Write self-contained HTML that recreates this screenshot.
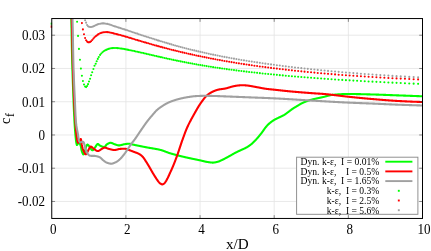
<!DOCTYPE html>
<html><head><meta charset="utf-8"><title>cf plot</title>
<style>html,body{margin:0;padding:0;background:#fff;overflow:hidden}body{width:431px;height:251px;font-family:"Liberation Serif",serif}</style></head>
<body><svg width="431" height="251" viewBox="0 0 431 251" style="display:block;will-change:transform">
<rect width="431" height="251" fill="#fff"/>
<defs><clipPath id="c"><rect x="51.75" y="18.55" width="370.75" height="199.89999999999998"/></clipPath></defs>
<path d="M125.90,18.55 V218.45 M200.05,18.55 V218.45 M274.20,18.55 V218.45 M348.35,18.55 V218.45 M51.75,201.48 H422.5 M51.75,168.23 H422.5 M51.75,134.98 H422.5 M51.75,101.73 H422.5 M51.75,68.48 H422.5 M51.75,35.23 H422.5" stroke="#e3e3e3" stroke-width="0.8" fill="none"/>
<g clip-path="url(#c)" fill="none" stroke-width="2.1" stroke-linejoin="round">
<path d="M70.90,0.00 L71.15,11.86 L71.30,18.60 L71.40,22.84 L71.45,25.00 L71.65,34.75 L71.90,47.91 L72.15,59.99 L72.25,64.00 L72.40,69.18 L72.65,76.66 L72.90,83.59 L72.95,85.00 L73.15,90.68 L73.40,97.47 L73.50,100.00 L73.65,103.68 L73.90,109.66 L74.15,115.23 L74.40,120.12 L74.45,121.00 L74.65,124.31 L74.90,128.09 L75.15,131.48 L75.40,134.45 L75.45,135.00 L75.65,137.11 L75.90,139.53 L76.15,141.55 L76.30,142.50 L76.40,143.07 L76.65,144.40 L76.90,145.00 L77.15,144.88 L77.40,144.57 L77.65,144.14 L77.90,143.65 L78.15,143.18 L78.40,142.79 L78.65,142.54 L78.80,142.50 L78.90,142.51 L79.15,142.65 L79.40,142.93 L79.65,143.33 L79.90,143.83 L80.15,144.41 L80.40,145.06 L80.65,145.76 L80.80,146.20 L80.90,146.57 L81.15,147.93 L81.40,149.46 L81.60,150.40 L81.65,150.57 L81.90,151.38 L82.15,152.08 L82.40,152.70 L82.65,153.24 L82.90,153.70 L83.15,154.16 L83.40,154.40 L83.65,154.30 L83.90,154.03 L84.15,153.64 L84.40,153.19 L84.50,153.00 L84.65,152.64 L84.90,151.73 L85.15,150.59 L85.40,149.36 L85.65,148.20 L85.90,147.27 L86.00,147.00 L86.15,146.64 L86.40,146.04 L86.65,145.48 L86.90,145.03 L87.15,144.71 L87.40,144.60 L87.65,144.65 L87.90,144.78 L88.15,144.97 L88.40,145.22 L88.65,145.50 L88.90,145.80 L89.15,146.10 L89.40,146.39 L89.50,146.50 L89.65,146.67 L89.90,147.01 L90.15,147.40 L90.40,147.82 L90.65,148.26 L90.90,148.70 L91.15,149.12 L91.40,149.50 L91.65,149.82 L91.90,150.08 L92.15,150.24 L92.40,150.30 L92.65,150.25 L92.90,150.12 L93.15,149.91 L93.40,149.65 L93.65,149.34 L93.90,149.00 L94.15,148.65 L94.40,148.29 L94.65,147.94 L94.90,147.62 L95.00,147.50 L95.15,147.32 L95.40,146.97 L95.65,146.58 L95.90,146.17 L96.15,145.75 L96.40,145.35 L96.65,144.96 L96.90,144.63 L97.15,144.34 L97.40,144.14 L97.65,144.02 L97.80,144.00 L97.90,144.01 L98.15,144.08 L98.40,144.23 L98.65,144.43 L98.90,144.66 L99.15,144.90 L99.40,145.14 L99.65,145.36 L99.90,145.54 L100.00,145.60 L100.15,145.68 L100.40,145.81 L100.65,145.94 L100.90,146.06 L101.15,146.19 L101.40,146.30 L101.65,146.41 L101.90,146.52 L102.15,146.61 L102.40,146.70 L102.65,146.77 L102.90,146.83 L103.15,146.88 L103.30,146.90 L103.40,146.91 L103.65,146.94 L103.90,146.97 L104.15,146.99 L104.40,147.00 L104.50,147.00 L104.65,146.97 L104.90,146.82 L105.15,146.56 L105.40,146.23 L105.65,145.85 L105.90,145.46 L106.15,145.09 L106.40,144.77 L106.65,144.54 L106.70,144.50 L106.90,144.37 L107.15,144.21 L107.40,144.05 L107.65,143.89 L107.90,143.74 L108.15,143.59 L108.40,143.46 L108.65,143.33 L108.90,143.21 L109.15,143.11 L109.40,143.02 L109.65,142.94 L109.90,142.88 L110.15,142.83 L110.40,142.81 L110.60,142.80 L110.65,142.80 L110.90,142.82 L111.15,142.86 L111.40,142.91 L111.65,142.99 L111.90,143.07 L112.15,143.17 L112.40,143.28 L112.65,143.40 L112.90,143.52 L113.15,143.64 L113.40,143.75 L113.65,143.87 L113.90,143.98 L114.15,144.08 L114.40,144.17 L114.50,144.20 L114.65,144.25 L114.90,144.33 L115.15,144.41 L115.40,144.50 L115.65,144.59 L115.90,144.68 L116.15,144.77 L116.40,144.86 L116.65,144.94 L116.90,145.02 L117.15,145.10 L117.40,145.17 L117.65,145.23 L117.90,145.28 L118.15,145.33 L118.40,145.36 L118.65,145.39 L118.90,145.40 L119.00,145.40 L119.15,145.40 L119.40,145.39 L119.65,145.37 L119.90,145.33 L120.15,145.30 L120.40,145.25 L120.65,145.20 L120.90,145.14 L121.15,145.08 L121.40,145.01 L121.65,144.95 L121.90,144.87 L122.15,144.80 L122.40,144.73 L122.65,144.66 L122.90,144.59 L123.15,144.52 L123.40,144.45 L123.65,144.39 L123.90,144.33 L124.15,144.28 L124.40,144.23 L124.60,144.20 L124.65,144.19 L124.90,144.16 L125.15,144.12 L125.40,144.08 L125.65,144.04 L125.90,144.00 L126.15,143.96 L126.40,143.93 L126.65,143.89 L126.90,143.86 L127.15,143.82 L127.40,143.80 L127.65,143.77 L127.90,143.75 L128.15,143.73 L128.40,143.71 L128.65,143.71 L128.90,143.70 L129.00,143.70 L129.15,143.70 L129.40,143.72 L129.65,143.74 L129.90,143.77 L130.15,143.82 L130.40,143.87 L130.65,143.92 L130.90,143.98 L131.15,144.05 L131.40,144.12 L131.65,144.19 L131.90,144.27 L132.15,144.34 L132.40,144.41 L132.65,144.49 L132.90,144.55 L133.15,144.62 L133.40,144.68 L133.50,144.70 L133.65,144.73 L133.90,144.79 L134.15,144.84 L134.40,144.89 L134.65,144.95 L134.90,145.00 L135.15,145.05 L135.40,145.11 L135.65,145.16 L135.90,145.21 L136.15,145.27 L136.40,145.32 L136.65,145.37 L136.90,145.42 L137.15,145.48 L137.40,145.53 L137.65,145.58 L137.90,145.63 L138.15,145.68 L138.40,145.73 L138.65,145.79 L138.90,145.84 L139.15,145.89 L139.40,145.94 L139.65,145.99 L139.90,146.04 L140.15,146.09 L140.20,146.10 L140.40,146.14 L140.65,146.19 L140.90,146.24 L141.15,146.29 L141.40,146.34 L141.65,146.39 L141.90,146.44 L142.15,146.49 L142.40,146.54 L142.65,146.59 L142.90,146.64 L143.15,146.68 L143.40,146.73 L143.65,146.78 L143.90,146.83 L144.15,146.88 L144.40,146.93 L144.65,146.97 L144.90,147.02 L145.15,147.07 L145.40,147.12 L145.65,147.17 L145.90,147.21 L146.15,147.26 L146.40,147.31 L146.65,147.35 L146.90,147.40 L147.15,147.44 L147.40,147.49 L147.65,147.54 L147.90,147.58 L148.00,147.60 L148.15,147.63 L148.40,147.67 L148.65,147.72 L148.90,147.76 L149.15,147.80 L149.40,147.85 L149.65,147.89 L149.90,147.93 L150.15,147.97 L150.40,148.01 L150.65,148.06 L150.90,148.10 L151.15,148.14 L151.40,148.18 L151.65,148.22 L151.90,148.26 L152.15,148.30 L152.40,148.35 L152.65,148.39 L152.90,148.43 L153.15,148.47 L153.40,148.52 L153.65,148.56 L153.90,148.60 L154.15,148.65 L154.40,148.69 L154.65,148.74 L154.90,148.78 L155.00,148.80 L155.15,148.83 L155.40,148.87 L155.65,148.92 L155.90,148.97 L156.15,149.01 L156.40,149.06 L156.65,149.10 L156.90,149.15 L157.15,149.20 L157.40,149.24 L157.65,149.29 L157.90,149.34 L158.15,149.39 L158.40,149.44 L158.65,149.49 L158.90,149.55 L159.15,149.60 L159.40,149.66 L159.65,149.72 L159.90,149.78 L160.00,149.80 L160.15,149.84 L160.40,149.90 L160.65,149.97 L160.90,150.04 L161.15,150.11 L161.40,150.19 L161.65,150.26 L161.90,150.34 L162.15,150.42 L162.40,150.51 L162.65,150.59 L162.90,150.68 L163.15,150.76 L163.40,150.85 L163.65,150.94 L163.90,151.03 L164.15,151.13 L164.40,151.22 L164.65,151.31 L164.90,151.41 L165.15,151.50 L165.40,151.60 L165.65,151.69 L165.90,151.79 L166.15,151.88 L166.40,151.98 L166.65,152.07 L166.90,152.16 L167.15,152.26 L167.40,152.35 L167.65,152.44 L167.90,152.53 L168.15,152.62 L168.40,152.71 L168.65,152.80 L168.90,152.88 L169.15,152.97 L169.40,153.05 L169.65,153.13 L169.90,153.21 L170.15,153.29 L170.20,153.30 L170.40,153.36 L170.65,153.43 L170.90,153.51 L171.15,153.58 L171.40,153.65 L171.65,153.73 L171.90,153.80 L172.15,153.87 L172.40,153.94 L172.65,154.01 L172.90,154.08 L173.15,154.15 L173.40,154.22 L173.65,154.29 L173.90,154.36 L174.15,154.43 L174.40,154.50 L174.65,154.57 L174.90,154.63 L175.15,154.70 L175.40,154.77 L175.65,154.84 L175.90,154.90 L176.15,154.97 L176.40,155.03 L176.65,155.10 L176.90,155.16 L177.15,155.23 L177.40,155.29 L177.65,155.36 L177.90,155.42 L178.15,155.49 L178.40,155.55 L178.65,155.61 L178.90,155.68 L179.15,155.74 L179.40,155.80 L179.65,155.87 L179.90,155.93 L180.15,155.99 L180.40,156.05 L180.65,156.11 L180.90,156.17 L181.15,156.23 L181.40,156.30 L181.65,156.36 L181.90,156.42 L182.15,156.48 L182.40,156.54 L182.65,156.60 L182.90,156.66 L183.15,156.72 L183.40,156.78 L183.65,156.84 L183.90,156.89 L184.15,156.95 L184.40,157.01 L184.65,157.07 L184.90,157.13 L185.15,157.19 L185.20,157.20 L185.40,157.25 L185.65,157.30 L185.90,157.36 L186.15,157.42 L186.40,157.48 L186.65,157.53 L186.90,157.59 L187.15,157.64 L187.40,157.70 L187.65,157.75 L187.90,157.81 L188.15,157.86 L188.40,157.92 L188.65,157.97 L188.90,158.03 L189.15,158.08 L189.40,158.13 L189.65,158.18 L189.90,158.24 L190.15,158.29 L190.40,158.34 L190.65,158.39 L190.90,158.45 L191.15,158.50 L191.40,158.55 L191.65,158.60 L191.90,158.65 L192.15,158.71 L192.40,158.76 L192.65,158.81 L192.90,158.86 L193.15,158.91 L193.40,158.96 L193.65,159.01 L193.90,159.06 L194.15,159.11 L194.40,159.17 L194.65,159.22 L194.90,159.27 L195.15,159.32 L195.40,159.37 L195.65,159.42 L195.90,159.47 L196.15,159.52 L196.40,159.58 L196.65,159.63 L196.90,159.68 L197.15,159.73 L197.40,159.78 L197.65,159.83 L197.90,159.89 L198.15,159.94 L198.40,159.99 L198.65,160.05 L198.90,160.10 L199.15,160.15 L199.40,160.21 L199.65,160.26 L199.90,160.31 L200.15,160.37 L200.30,160.40 L200.40,160.42 L200.65,160.48 L200.90,160.54 L201.15,160.59 L201.40,160.65 L201.65,160.71 L201.90,160.77 L202.15,160.83 L202.40,160.90 L202.65,160.96 L202.90,161.02 L203.15,161.08 L203.40,161.14 L203.65,161.20 L203.90,161.26 L204.15,161.32 L204.40,161.38 L204.65,161.44 L204.90,161.50 L205.15,161.55 L205.40,161.60 L205.65,161.66 L205.90,161.71 L206.15,161.75 L206.40,161.80 L206.65,161.84 L206.90,161.88 L207.00,161.90 L207.15,161.92 L207.40,161.96 L207.65,162.00 L207.90,162.04 L208.15,162.08 L208.40,162.13 L208.65,162.17 L208.90,162.21 L209.15,162.24 L209.40,162.28 L209.65,162.32 L209.90,162.36 L210.15,162.39 L210.40,162.42 L210.65,162.45 L210.90,162.48 L211.15,162.51 L211.40,162.53 L211.65,162.55 L211.90,162.57 L212.15,162.58 L212.40,162.59 L212.65,162.60 L212.90,162.60 L213.15,162.60 L213.40,162.59 L213.65,162.57 L213.90,162.55 L214.15,162.52 L214.40,162.49 L214.65,162.45 L214.90,162.41 L215.15,162.37 L215.40,162.32 L215.65,162.27 L215.90,162.22 L216.15,162.16 L216.40,162.10 L216.65,162.04 L216.90,161.98 L217.15,161.92 L217.40,161.85 L217.65,161.79 L217.90,161.73 L218.00,161.70 L218.15,161.66 L218.40,161.59 L218.65,161.51 L218.90,161.42 L219.15,161.32 L219.40,161.22 L219.65,161.11 L219.90,161.00 L220.15,160.89 L220.40,160.77 L220.65,160.65 L220.90,160.53 L221.15,160.41 L221.40,160.28 L221.65,160.16 L221.90,160.05 L222.00,160.00 L222.15,159.93 L222.40,159.81 L222.65,159.69 L222.90,159.57 L223.15,159.45 L223.40,159.33 L223.65,159.20 L223.90,159.07 L224.15,158.95 L224.40,158.82 L224.65,158.69 L224.90,158.56 L225.15,158.43 L225.40,158.30 L225.65,158.16 L225.90,158.03 L226.15,157.90 L226.40,157.76 L226.65,157.63 L226.90,157.49 L227.15,157.36 L227.40,157.22 L227.65,157.09 L227.90,156.95 L228.00,156.90 L228.15,156.82 L228.40,156.68 L228.65,156.54 L228.90,156.40 L229.15,156.26 L229.40,156.12 L229.65,155.98 L229.90,155.84 L230.15,155.69 L230.40,155.55 L230.65,155.40 L230.90,155.26 L231.15,155.11 L231.40,154.97 L231.65,154.82 L231.90,154.68 L232.15,154.53 L232.40,154.39 L232.65,154.25 L232.90,154.11 L233.15,153.97 L233.40,153.83 L233.65,153.69 L233.90,153.56 L234.15,153.43 L234.20,153.40 L234.40,153.29 L234.65,153.16 L234.90,153.03 L235.15,152.91 L235.40,152.78 L235.65,152.65 L235.90,152.52 L236.15,152.40 L236.40,152.27 L236.65,152.15 L236.90,152.03 L237.15,151.90 L237.40,151.78 L237.65,151.66 L237.90,151.54 L238.15,151.42 L238.40,151.29 L238.65,151.17 L238.90,151.05 L239.15,150.93 L239.40,150.81 L239.65,150.69 L239.90,150.58 L240.15,150.46 L240.40,150.34 L240.65,150.22 L240.90,150.10 L241.15,149.98 L241.40,149.87 L241.65,149.75 L241.90,149.64 L242.15,149.53 L242.40,149.43 L242.65,149.32 L242.90,149.21 L243.15,149.10 L243.40,148.99 L243.65,148.88 L243.90,148.77 L244.15,148.66 L244.40,148.55 L244.65,148.43 L244.90,148.31 L245.15,148.19 L245.40,148.06 L245.65,147.93 L245.90,147.80 L246.15,147.66 L246.40,147.52 L246.65,147.38 L246.90,147.23 L247.15,147.08 L247.40,146.93 L247.65,146.77 L247.90,146.61 L248.15,146.45 L248.40,146.29 L248.65,146.12 L248.90,145.95 L249.15,145.78 L249.40,145.60 L249.65,145.42 L249.90,145.24 L250.15,145.05 L250.40,144.86 L250.65,144.67 L250.90,144.48 L251.00,144.40 L251.15,144.28 L251.40,144.08 L251.65,143.87 L251.90,143.65 L252.15,143.43 L252.40,143.21 L252.65,142.98 L252.90,142.75 L253.15,142.51 L253.40,142.27 L253.65,142.02 L253.90,141.77 L254.15,141.52 L254.40,141.27 L254.65,141.01 L254.90,140.76 L255.15,140.49 L255.40,140.23 L255.65,139.97 L255.90,139.71 L256.00,139.60 L256.15,139.44 L256.40,139.17 L256.65,138.90 L256.90,138.62 L257.15,138.34 L257.40,138.06 L257.65,137.78 L257.90,137.49 L258.15,137.20 L258.40,136.90 L258.65,136.60 L258.90,136.30 L259.15,136.00 L259.40,135.70 L259.65,135.39 L259.90,135.08 L260.15,134.77 L260.40,134.46 L260.65,134.15 L260.90,133.83 L261.15,133.52 L261.40,133.20 L261.65,132.88 L261.90,132.54 L262.15,132.20 L262.40,131.85 L262.65,131.50 L262.90,131.14 L263.15,130.78 L263.40,130.42 L263.65,130.06 L263.90,129.70 L264.15,129.34 L264.40,128.98 L264.65,128.63 L264.90,128.29 L265.15,127.96 L265.40,127.63 L265.65,127.32 L265.90,127.02 L266.00,126.90 L266.15,126.73 L266.40,126.44 L266.65,126.16 L266.90,125.88 L267.15,125.61 L267.40,125.35 L267.65,125.08 L267.90,124.83 L268.15,124.58 L268.40,124.33 L268.65,124.09 L268.90,123.86 L269.15,123.63 L269.40,123.41 L269.65,123.20 L269.90,122.99 L270.15,122.79 L270.40,122.59 L270.65,122.39 L270.90,122.19 L271.15,122.00 L271.40,121.81 L271.65,121.63 L271.90,121.45 L272.15,121.27 L272.40,121.09 L272.65,120.92 L272.90,120.75 L273.15,120.59 L273.40,120.42 L273.65,120.27 L273.90,120.11 L274.15,119.96 L274.40,119.81 L274.65,119.66 L274.75,119.60 L274.90,119.51 L275.15,119.37 L275.40,119.24 L275.65,119.11 L275.90,118.98 L276.15,118.85 L276.40,118.73 L276.65,118.60 L276.90,118.48 L277.15,118.37 L277.40,118.25 L277.65,118.13 L277.90,118.02 L278.15,117.90 L278.40,117.79 L278.65,117.67 L278.90,117.55 L279.15,117.44 L279.40,117.32 L279.65,117.20 L279.85,117.10 L279.90,117.08 L280.15,116.95 L280.40,116.83 L280.65,116.72 L280.90,116.60 L281.15,116.48 L281.40,116.37 L281.65,116.25 L281.90,116.13 L282.15,116.01 L282.40,115.89 L282.65,115.76 L282.90,115.64 L283.15,115.50 L283.40,115.37 L283.65,115.23 L283.70,115.20 L283.90,115.08 L284.15,114.93 L284.40,114.77 L284.65,114.61 L284.90,114.45 L285.15,114.28 L285.40,114.10 L285.65,113.93 L285.90,113.75 L286.15,113.57 L286.40,113.38 L286.65,113.20 L286.90,113.01 L287.15,112.82 L287.40,112.64 L287.65,112.45 L287.90,112.26 L288.15,112.08 L288.40,111.89 L288.65,111.71 L288.80,111.60 L288.90,111.53 L289.15,111.34 L289.40,111.16 L289.65,110.97 L289.90,110.78 L290.15,110.59 L290.40,110.40 L290.65,110.21 L290.90,110.02 L291.15,109.84 L291.40,109.65 L291.65,109.47 L291.90,109.29 L292.15,109.11 L292.40,108.94 L292.60,108.80 L292.65,108.77 L292.90,108.60 L293.15,108.44 L293.40,108.28 L293.65,108.12 L293.90,107.96 L294.15,107.81 L294.40,107.65 L294.65,107.50 L294.90,107.35 L295.15,107.20 L295.40,107.05 L295.65,106.91 L295.90,106.76 L296.15,106.61 L296.40,106.47 L296.65,106.32 L296.90,106.17 L297.15,106.02 L297.40,105.88 L297.65,105.73 L297.70,105.70 L297.90,105.58 L298.15,105.43 L298.40,105.28 L298.65,105.12 L298.90,104.97 L299.15,104.81 L299.40,104.66 L299.65,104.51 L299.90,104.35 L300.15,104.20 L300.40,104.06 L300.65,103.91 L300.90,103.77 L301.15,103.63 L301.40,103.50 L301.65,103.37 L301.90,103.25 L302.00,103.20 L302.15,103.13 L302.40,103.01 L302.65,102.90 L302.90,102.79 L303.15,102.67 L303.40,102.56 L303.65,102.45 L303.90,102.34 L304.15,102.24 L304.40,102.13 L304.65,102.03 L304.90,101.93 L305.15,101.82 L305.40,101.72 L305.65,101.63 L305.90,101.53 L306.15,101.43 L306.40,101.34 L306.65,101.24 L306.90,101.15 L307.15,101.06 L307.40,100.97 L307.65,100.88 L307.90,100.80 L308.15,100.71 L308.40,100.63 L308.65,100.54 L308.90,100.46 L309.15,100.38 L309.40,100.30 L309.65,100.23 L309.90,100.15 L310.15,100.07 L310.40,100.00 L310.65,99.93 L310.90,99.86 L311.15,99.79 L311.40,99.72 L311.65,99.65 L311.90,99.58 L312.15,99.51 L312.40,99.45 L312.65,99.38 L312.90,99.32 L313.15,99.26 L313.40,99.20 L313.65,99.14 L313.90,99.08 L314.15,99.02 L314.40,98.96 L314.65,98.90 L314.90,98.84 L315.15,98.78 L315.40,98.73 L315.65,98.67 L315.90,98.62 L316.15,98.56 L316.40,98.51 L316.65,98.45 L316.90,98.40 L317.15,98.34 L317.40,98.29 L317.65,98.24 L317.90,98.18 L318.15,98.13 L318.40,98.08 L318.65,98.02 L318.90,97.97 L319.15,97.92 L319.40,97.86 L319.65,97.81 L319.90,97.76 L320.15,97.71 L320.40,97.65 L320.65,97.60 L320.90,97.54 L321.15,97.49 L321.40,97.44 L321.65,97.38 L321.90,97.33 L322.15,97.27 L322.40,97.21 L322.65,97.16 L322.90,97.10 L323.15,97.04 L323.40,96.98 L323.65,96.92 L323.90,96.86 L324.15,96.79 L324.40,96.73 L324.65,96.66 L324.90,96.60 L325.15,96.53 L325.40,96.46 L325.65,96.40 L325.90,96.33 L326.15,96.26 L326.40,96.19 L326.65,96.12 L326.90,96.05 L327.15,95.99 L327.40,95.92 L327.65,95.85 L327.90,95.79 L328.15,95.72 L328.40,95.66 L328.65,95.59 L328.90,95.53 L329.15,95.47 L329.40,95.41 L329.65,95.36 L329.90,95.30 L330.15,95.25 L330.40,95.19 L330.65,95.14 L330.90,95.10 L331.15,95.05 L331.40,95.01 L331.65,94.97 L331.90,94.93 L332.15,94.90 L332.40,94.86 L332.65,94.83 L332.90,94.81 L333.00,94.80 L333.15,94.79 L333.40,94.76 L333.65,94.74 L333.90,94.72 L334.15,94.70 L334.40,94.68 L334.65,94.66 L334.90,94.63 L335.15,94.61 L335.40,94.59 L335.65,94.57 L335.90,94.55 L336.15,94.53 L336.40,94.51 L336.65,94.49 L336.90,94.47 L337.15,94.45 L337.40,94.44 L337.65,94.42 L337.90,94.40 L338.15,94.38 L338.40,94.36 L338.65,94.35 L338.90,94.33 L339.15,94.31 L339.40,94.30 L339.65,94.28 L339.90,94.27 L340.15,94.25 L340.40,94.24 L340.65,94.22 L340.90,94.21 L341.15,94.20 L341.40,94.18 L341.65,94.17 L341.90,94.16 L342.15,94.14 L342.40,94.13 L342.65,94.12 L342.90,94.11 L343.15,94.10 L343.40,94.09 L343.65,94.08 L343.90,94.07 L344.15,94.06 L344.40,94.06 L344.65,94.05 L344.90,94.04 L345.15,94.04 L345.40,94.03 L345.65,94.02 L345.90,94.02 L346.15,94.02 L346.40,94.01 L346.65,94.01 L346.90,94.01 L347.15,94.00 L347.40,94.00 L347.65,94.00 L347.90,94.00 L348.00,94.00 L348.15,94.00 L348.40,94.00 L348.65,94.00 L348.90,94.00 L349.15,94.00 L349.40,94.00 L349.65,94.00 L349.90,94.00 L350.15,94.01 L350.40,94.01 L350.65,94.01 L350.90,94.01 L351.15,94.01 L351.40,94.02 L351.65,94.02 L351.90,94.02 L352.15,94.02 L352.40,94.02 L352.65,94.03 L352.90,94.03 L353.15,94.03 L353.40,94.04 L353.65,94.04 L353.90,94.04 L354.15,94.05 L354.40,94.05 L354.65,94.05 L354.90,94.06 L355.15,94.06 L355.40,94.07 L355.65,94.07 L355.90,94.07 L356.15,94.08 L356.40,94.08 L356.65,94.09 L356.90,94.09 L357.15,94.10 L357.40,94.10 L357.65,94.11 L357.90,94.11 L358.15,94.12 L358.40,94.12 L358.65,94.13 L358.90,94.13 L359.15,94.14 L359.40,94.14 L359.65,94.15 L359.90,94.16 L360.15,94.16 L360.40,94.17 L360.65,94.17 L360.90,94.18 L361.15,94.19 L361.40,94.19 L361.65,94.20 L361.90,94.20 L362.15,94.21 L362.40,94.22 L362.65,94.22 L362.90,94.23 L363.15,94.24 L363.40,94.24 L363.65,94.25 L363.90,94.26 L364.15,94.26 L364.40,94.27 L364.65,94.28 L364.90,94.28 L365.15,94.29 L365.40,94.30 L365.65,94.30 L365.90,94.31 L366.15,94.32 L366.40,94.32 L366.65,94.33 L366.90,94.34 L367.15,94.34 L367.40,94.35 L367.65,94.36 L367.90,94.36 L368.15,94.37 L368.40,94.38 L368.65,94.38 L368.90,94.39 L369.15,94.40 L369.40,94.40 L369.65,94.41 L369.90,94.42 L370.15,94.42 L370.40,94.43 L370.65,94.44 L370.90,94.44 L371.15,94.45 L371.40,94.46 L371.65,94.46 L371.90,94.47 L372.15,94.48 L372.40,94.48 L372.65,94.49 L372.90,94.50 L373.00,94.50 L373.15,94.50 L373.40,94.51 L373.65,94.52 L373.90,94.52 L374.15,94.53 L374.40,94.54 L374.65,94.54 L374.90,94.55 L375.15,94.56 L375.40,94.57 L375.65,94.57 L375.90,94.58 L376.15,94.59 L376.40,94.59 L376.65,94.60 L376.90,94.61 L377.15,94.62 L377.40,94.63 L377.65,94.63 L377.90,94.64 L378.15,94.65 L378.40,94.66 L378.65,94.67 L378.90,94.67 L379.15,94.68 L379.40,94.69 L379.65,94.70 L379.90,94.71 L380.15,94.72 L380.40,94.72 L380.65,94.73 L380.90,94.74 L381.15,94.75 L381.40,94.76 L381.65,94.77 L381.90,94.78 L382.15,94.79 L382.40,94.79 L382.65,94.80 L382.90,94.81 L383.15,94.82 L383.40,94.83 L383.65,94.84 L383.90,94.85 L384.15,94.86 L384.40,94.87 L384.65,94.88 L384.90,94.89 L385.15,94.89 L385.40,94.90 L385.65,94.91 L385.90,94.92 L386.15,94.93 L386.40,94.94 L386.65,94.95 L386.90,94.96 L387.15,94.97 L387.40,94.98 L387.65,94.99 L387.90,95.00 L388.15,95.01 L388.40,95.02 L388.65,95.03 L388.90,95.04 L389.15,95.05 L389.40,95.06 L389.65,95.07 L389.90,95.08 L390.15,95.09 L390.40,95.10 L390.65,95.11 L390.90,95.12 L391.15,95.13 L391.40,95.13 L391.65,95.14 L391.90,95.15 L392.15,95.16 L392.40,95.17 L392.65,95.18 L392.90,95.19 L393.15,95.20 L393.40,95.21 L393.65,95.22 L393.90,95.23 L394.15,95.24 L394.40,95.25 L394.65,95.26 L394.90,95.27 L395.15,95.28 L395.40,95.29 L395.65,95.30 L395.90,95.31 L396.15,95.32 L396.40,95.33 L396.65,95.34 L396.90,95.34 L397.15,95.35 L397.40,95.36 L397.65,95.37 L397.90,95.38 L398.15,95.39 L398.40,95.40 L398.65,95.41 L398.90,95.42 L399.15,95.43 L399.40,95.44 L399.65,95.45 L399.90,95.45 L400.15,95.46 L400.40,95.47 L400.65,95.48 L400.90,95.49 L401.15,95.50 L401.40,95.51 L401.65,95.52 L401.90,95.53 L402.15,95.54 L402.40,95.55 L402.65,95.56 L402.90,95.56 L403.15,95.57 L403.40,95.58 L403.65,95.59 L403.90,95.60 L404.15,95.61 L404.40,95.62 L404.65,95.63 L404.90,95.64 L405.15,95.65 L405.40,95.66 L405.65,95.67 L405.90,95.68 L406.15,95.68 L406.40,95.69 L406.65,95.70 L406.90,95.71 L407.15,95.72 L407.40,95.73 L407.65,95.74 L407.90,95.75 L408.15,95.76 L408.40,95.77 L408.65,95.78 L408.90,95.79 L409.15,95.80 L409.40,95.81 L409.65,95.81 L409.90,95.82 L410.15,95.83 L410.40,95.84 L410.65,95.85 L410.90,95.86 L411.15,95.87 L411.40,95.88 L411.65,95.89 L411.90,95.90 L412.15,95.91 L412.40,95.92 L412.65,95.93 L412.90,95.94 L413.15,95.95 L413.40,95.95 L413.65,95.96 L413.90,95.97 L414.15,95.98 L414.40,95.99 L414.65,96.00 L414.90,96.01 L415.15,96.02 L415.40,96.03 L415.65,96.04 L415.90,96.05 L416.15,96.06 L416.40,96.07 L416.65,96.08 L416.90,96.09 L417.15,96.10 L417.40,96.11 L417.65,96.12 L417.90,96.12 L418.15,96.13 L418.40,96.14 L418.65,96.15 L418.90,96.16 L419.15,96.17 L419.40,96.18 L419.65,96.19 L419.90,96.20 L420.15,96.21 L420.40,96.22 L420.65,96.23 L420.90,96.24 L421.15,96.25 L421.40,96.26 L421.65,96.27 L421.90,96.28 L422.15,96.29 L422.40,96.30 L422.50,96.30" stroke="#00ff00"/>
<path d="M71.40,0.00 L71.65,11.86 L71.80,18.60 L71.90,22.86 L71.95,25.00 L72.15,34.29 L72.40,46.55 L72.65,58.07 L72.80,64.00 L72.90,67.48 L73.15,75.27 L73.40,82.28 L73.50,85.00 L73.65,89.05 L73.90,95.45 L74.10,100.00 L74.15,101.04 L74.40,106.03 L74.65,110.66 L74.90,114.92 L75.15,118.83 L75.30,121.00 L75.40,122.39 L75.65,125.72 L75.90,128.80 L76.15,131.58 L76.40,134.00 L76.65,136.16 L76.90,138.12 L77.15,139.74 L77.30,140.50 L77.40,140.95 L77.65,142.04 L77.90,142.73 L78.00,142.80 L78.15,142.77 L78.40,142.59 L78.65,142.29 L78.90,141.93 L79.15,141.53 L79.40,141.14 L79.50,141.00 L79.65,140.77 L79.90,140.29 L80.15,139.78 L80.40,139.34 L80.65,139.05 L80.80,139.00 L80.90,139.13 L81.15,140.31 L81.40,142.18 L81.65,144.06 L81.80,144.90 L81.90,145.34 L82.15,146.40 L82.40,147.39 L82.65,148.31 L82.90,149.14 L83.15,149.88 L83.40,150.52 L83.50,150.75 L83.65,151.08 L83.90,151.63 L84.15,152.17 L84.40,152.68 L84.65,153.15 L84.90,153.56 L85.15,153.90 L85.40,154.14 L85.65,154.28 L85.80,154.30 L85.90,154.29 L86.15,154.14 L86.40,153.87 L86.65,153.48 L86.90,153.02 L87.15,152.51 L87.40,151.97 L87.65,151.43 L87.90,150.93 L88.15,150.48 L88.20,150.40 L88.40,150.06 L88.65,149.60 L88.90,149.10 L89.15,148.60 L89.40,148.10 L89.65,147.65 L89.90,147.24 L90.15,146.92 L90.40,146.70 L90.65,146.60 L90.70,146.60 L90.90,146.62 L91.15,146.69 L91.40,146.81 L91.65,146.97 L91.90,147.16 L92.15,147.37 L92.40,147.59 L92.65,147.82 L92.90,148.04 L93.15,148.25 L93.40,148.43 L93.50,148.50 L93.65,148.60 L93.90,148.77 L94.15,148.96 L94.40,149.15 L94.65,149.35 L94.90,149.54 L95.15,149.74 L95.40,149.93 L95.65,150.12 L95.90,150.30 L96.15,150.46 L96.40,150.61 L96.65,150.73 L96.90,150.84 L97.15,150.92 L97.40,150.98 L97.65,151.00 L97.70,151.00 L97.90,150.99 L98.15,150.96 L98.40,150.90 L98.65,150.81 L98.90,150.71 L99.15,150.59 L99.40,150.46 L99.65,150.31 L99.90,150.16 L100.15,150.00 L100.40,149.83 L100.65,149.66 L100.90,149.49 L101.15,149.32 L101.40,149.16 L101.65,149.00 L101.90,148.86 L102.15,148.72 L102.20,148.70 L102.40,148.59 L102.65,148.45 L102.90,148.29 L103.15,148.13 L103.40,147.98 L103.65,147.84 L103.90,147.73 L104.15,147.65 L104.40,147.60 L104.50,147.60 L104.65,147.60 L104.90,147.62 L105.15,147.66 L105.40,147.71 L105.65,147.77 L105.90,147.84 L106.15,147.92 L106.40,148.01 L106.65,148.10 L106.90,148.20 L107.15,148.30 L107.40,148.39 L107.65,148.49 L107.90,148.59 L108.15,148.68 L108.40,148.76 L108.65,148.83 L108.90,148.90 L109.15,148.96 L109.40,149.02 L109.65,149.09 L109.90,149.15 L110.15,149.22 L110.40,149.29 L110.65,149.35 L110.90,149.42 L111.15,149.48 L111.40,149.54 L111.65,149.60 L111.90,149.66 L112.15,149.72 L112.40,149.77 L112.65,149.82 L112.90,149.86 L113.15,149.90 L113.40,149.93 L113.65,149.96 L113.90,149.98 L114.15,149.99 L114.40,150.00 L114.50,150.00 L114.65,150.00 L114.90,149.99 L115.15,149.96 L115.40,149.93 L115.65,149.89 L115.90,149.85 L116.15,149.79 L116.40,149.74 L116.65,149.67 L116.90,149.61 L117.15,149.54 L117.40,149.47 L117.65,149.40 L117.90,149.33 L118.15,149.27 L118.40,149.20 L118.65,149.14 L118.90,149.08 L119.15,149.03 L119.40,148.99 L119.65,148.95 L119.90,148.92 L120.10,148.90 L120.15,148.90 L120.40,148.88 L120.65,148.86 L120.90,148.84 L121.15,148.83 L121.40,148.81 L121.65,148.80 L121.90,148.78 L122.15,148.77 L122.40,148.76 L122.65,148.75 L122.90,148.74 L123.15,148.73 L123.40,148.72 L123.65,148.71 L123.90,148.71 L124.15,148.70 L124.40,148.70 L124.60,148.70 L124.65,148.70 L124.90,148.71 L125.15,148.74 L125.40,148.77 L125.65,148.82 L125.90,148.88 L126.15,148.95 L126.40,149.03 L126.65,149.11 L126.90,149.20 L127.15,149.30 L127.40,149.39 L127.65,149.49 L127.90,149.59 L128.15,149.69 L128.40,149.79 L128.65,149.88 L128.90,149.97 L129.00,150.00 L129.15,150.05 L129.40,150.14 L129.65,150.22 L129.90,150.31 L130.15,150.40 L130.40,150.49 L130.65,150.59 L130.90,150.68 L131.15,150.78 L131.40,150.88 L131.65,150.97 L131.90,151.07 L132.15,151.17 L132.40,151.27 L132.65,151.37 L132.90,151.47 L133.15,151.56 L133.40,151.66 L133.50,151.70 L133.65,151.76 L133.90,151.85 L134.15,151.95 L134.40,152.04 L134.65,152.13 L134.90,152.21 L135.15,152.30 L135.40,152.39 L135.65,152.48 L135.90,152.57 L136.15,152.66 L136.40,152.75 L136.65,152.85 L136.90,152.94 L137.15,153.04 L137.40,153.14 L137.65,153.25 L137.90,153.36 L138.15,153.47 L138.40,153.59 L138.65,153.71 L138.90,153.84 L139.10,153.95 L139.15,153.98 L139.40,154.12 L139.65,154.27 L139.90,154.43 L140.15,154.60 L140.40,154.78 L140.65,154.97 L140.90,155.16 L141.15,155.36 L141.40,155.58 L141.65,155.80 L141.90,156.02 L142.15,156.26 L142.40,156.50 L142.60,156.70 L142.65,156.75 L142.90,157.02 L143.15,157.31 L143.40,157.62 L143.65,157.95 L143.90,158.29 L144.15,158.65 L144.40,159.02 L144.65,159.40 L144.90,159.78 L145.15,160.17 L145.40,160.56 L145.65,160.95 L145.90,161.34 L146.15,161.72 L146.20,161.80 L146.40,162.11 L146.65,162.50 L146.90,162.89 L147.15,163.29 L147.40,163.70 L147.65,164.11 L147.90,164.52 L148.15,164.94 L148.40,165.36 L148.65,165.78 L148.90,166.20 L149.15,166.62 L149.40,167.05 L149.65,167.49 L149.90,167.92 L150.15,168.36 L150.40,168.80 L150.65,169.24 L150.90,169.68 L151.15,170.11 L151.20,170.20 L151.40,170.55 L151.65,170.98 L151.90,171.42 L152.15,171.86 L152.40,172.30 L152.65,172.73 L152.90,173.16 L153.15,173.58 L153.40,174.00 L153.65,174.41 L153.90,174.82 L154.15,175.23 L154.40,175.63 L154.65,176.02 L154.90,176.42 L155.15,176.81 L155.40,177.19 L155.65,177.57 L155.80,177.80 L155.90,177.95 L156.15,178.33 L156.40,178.72 L156.65,179.10 L156.90,179.48 L157.15,179.86 L157.40,180.23 L157.65,180.58 L157.90,180.93 L158.15,181.26 L158.40,181.57 L158.60,181.80 L158.65,181.86 L158.90,182.13 L159.15,182.41 L159.40,182.67 L159.65,182.92 L159.90,183.15 L160.15,183.35 L160.40,183.54 L160.50,183.60 L160.65,183.70 L160.90,183.86 L161.15,184.02 L161.40,184.16 L161.65,184.28 L161.90,184.36 L162.15,184.40 L162.20,184.40 L162.40,184.39 L162.65,184.33 L162.90,184.24 L163.15,184.12 L163.40,183.98 L163.65,183.83 L163.90,183.67 L164.00,183.60 L164.15,183.49 L164.40,183.26 L164.65,182.99 L164.90,182.68 L165.15,182.34 L165.40,181.98 L165.65,181.62 L165.80,181.40 L165.90,181.25 L166.15,180.86 L166.40,180.44 L166.65,180.00 L166.90,179.54 L167.15,179.07 L167.40,178.59 L167.50,178.40 L167.65,178.11 L167.90,177.60 L168.15,177.08 L168.40,176.55 L168.65,176.00 L168.90,175.45 L169.15,174.89 L169.40,174.33 L169.65,173.77 L169.90,173.22 L170.00,173.00 L170.15,172.67 L170.40,172.13 L170.65,171.59 L170.90,171.05 L171.15,170.51 L171.40,169.96 L171.65,169.41 L171.90,168.85 L172.15,168.28 L172.40,167.70 L172.65,167.11 L172.90,166.51 L173.15,165.91 L173.40,165.29 L173.65,164.68 L173.90,164.06 L174.15,163.43 L174.40,162.80 L174.65,162.16 L174.90,161.51 L175.15,160.86 L175.40,160.21 L175.65,159.55 L175.90,158.89 L176.15,158.22 L176.40,157.55 L176.65,156.88 L176.90,156.20 L177.15,155.51 L177.30,155.10 L177.40,154.82 L177.65,154.12 L177.90,153.41 L178.15,152.68 L178.40,151.95 L178.65,151.21 L178.90,150.46 L179.15,149.70 L179.40,148.94 L179.65,148.18 L179.90,147.41 L180.15,146.65 L180.40,145.89 L180.65,145.13 L180.90,144.37 L181.15,143.62 L181.40,142.88 L181.65,142.15 L181.90,141.43 L182.15,140.72 L182.30,140.30 L182.40,140.02 L182.65,139.33 L182.90,138.63 L183.15,137.93 L183.40,137.24 L183.65,136.54 L183.90,135.85 L184.15,135.17 L184.40,134.49 L184.65,133.81 L184.90,133.15 L185.15,132.49 L185.40,131.83 L185.65,131.19 L185.90,130.56 L186.15,129.94 L186.40,129.33 L186.65,128.74 L186.90,128.15 L187.10,127.70 L187.15,127.59 L187.40,127.03 L187.65,126.49 L187.90,125.95 L188.15,125.42 L188.40,124.89 L188.65,124.38 L188.90,123.87 L189.15,123.37 L189.40,122.87 L189.65,122.38 L189.90,121.89 L190.15,121.41 L190.40,120.94 L190.65,120.47 L190.90,120.00 L191.15,119.54 L191.40,119.08 L191.65,118.62 L191.90,118.16 L192.15,117.71 L192.40,117.26 L192.65,116.81 L192.90,116.36 L193.15,115.91 L193.40,115.46 L193.60,115.10 L193.65,115.01 L193.90,114.56 L194.15,114.11 L194.40,113.66 L194.65,113.22 L194.90,112.77 L195.15,112.32 L195.40,111.88 L195.65,111.43 L195.90,110.99 L196.15,110.55 L196.40,110.11 L196.65,109.68 L196.90,109.24 L197.15,108.81 L197.40,108.39 L197.65,107.96 L197.90,107.54 L198.15,107.13 L198.40,106.72 L198.65,106.31 L198.90,105.91 L199.15,105.51 L199.40,105.12 L199.65,104.73 L199.90,104.35 L200.15,103.97 L200.40,103.60 L200.65,103.24 L200.90,102.88 L201.10,102.60 L201.15,102.53 L201.40,102.18 L201.65,101.83 L201.90,101.49 L202.15,101.14 L202.40,100.79 L202.65,100.45 L202.90,100.11 L203.15,99.77 L203.40,99.44 L203.65,99.11 L203.90,98.78 L204.15,98.46 L204.40,98.15 L204.65,97.84 L204.90,97.54 L205.15,97.25 L205.40,96.96 L205.65,96.68 L205.90,96.41 L206.15,96.15 L206.40,95.90 L206.65,95.66 L206.90,95.43 L207.15,95.21 L207.40,95.00 L207.65,94.80 L207.90,94.61 L208.15,94.42 L208.40,94.23 L208.65,94.05 L208.90,93.87 L209.15,93.70 L209.40,93.53 L209.65,93.37 L209.90,93.21 L210.15,93.05 L210.40,92.90 L210.65,92.75 L210.90,92.61 L211.15,92.46 L211.40,92.33 L211.65,92.19 L211.90,92.06 L212.15,91.93 L212.40,91.81 L212.65,91.69 L212.90,91.57 L213.15,91.46 L213.40,91.34 L213.50,91.30 L213.65,91.23 L213.90,91.13 L214.15,91.02 L214.40,90.92 L214.65,90.81 L214.90,90.71 L215.15,90.62 L215.40,90.52 L215.65,90.43 L215.90,90.34 L216.15,90.25 L216.40,90.16 L216.65,90.08 L216.90,90.00 L217.15,89.93 L217.40,89.85 L217.65,89.78 L217.90,89.72 L218.15,89.66 L218.40,89.60 L218.65,89.55 L218.90,89.50 L219.15,89.45 L219.40,89.40 L219.65,89.36 L219.90,89.32 L220.15,89.28 L220.40,89.24 L220.65,89.20 L220.90,89.17 L221.15,89.13 L221.40,89.10 L221.65,89.06 L221.90,89.03 L222.15,89.00 L222.40,88.97 L222.65,88.93 L222.90,88.90 L223.15,88.87 L223.40,88.83 L223.65,88.80 L223.90,88.76 L224.15,88.72 L224.40,88.68 L224.65,88.64 L224.90,88.60 L225.15,88.55 L225.40,88.50 L225.65,88.45 L225.90,88.39 L226.15,88.33 L226.40,88.27 L226.65,88.21 L226.90,88.14 L227.15,88.07 L227.40,88.00 L227.65,87.93 L227.90,87.85 L228.15,87.77 L228.40,87.70 L228.65,87.62 L228.90,87.54 L229.15,87.46 L229.40,87.38 L229.65,87.30 L229.90,87.23 L230.15,87.15 L230.40,87.07 L230.65,86.99 L230.90,86.92 L231.15,86.85 L231.40,86.78 L231.65,86.71 L231.90,86.64 L232.15,86.57 L232.40,86.51 L232.65,86.46 L232.90,86.40 L233.15,86.35 L233.40,86.29 L233.65,86.24 L233.90,86.19 L234.15,86.13 L234.40,86.08 L234.65,86.03 L234.90,85.98 L235.15,85.93 L235.40,85.88 L235.65,85.84 L235.90,85.79 L236.15,85.75 L236.40,85.71 L236.65,85.67 L236.90,85.63 L237.15,85.60 L237.40,85.57 L237.65,85.54 L237.90,85.51 L238.00,85.50 L238.15,85.49 L238.40,85.46 L238.65,85.44 L238.90,85.41 L239.15,85.39 L239.40,85.37 L239.65,85.35 L239.90,85.32 L240.15,85.30 L240.40,85.28 L240.65,85.27 L240.90,85.25 L241.15,85.24 L241.40,85.23 L241.65,85.22 L241.90,85.21 L242.15,85.20 L242.40,85.20 L242.50,85.20 L242.65,85.20 L242.90,85.20 L243.15,85.21 L243.40,85.22 L243.65,85.23 L243.90,85.24 L244.15,85.26 L244.40,85.27 L244.65,85.29 L244.90,85.31 L245.15,85.33 L245.40,85.35 L245.65,85.38 L245.90,85.40 L246.15,85.42 L246.40,85.44 L246.65,85.47 L246.90,85.49 L247.00,85.50 L247.15,85.51 L247.40,85.54 L247.65,85.57 L247.90,85.59 L248.15,85.62 L248.40,85.66 L248.65,85.69 L248.90,85.72 L249.15,85.76 L249.40,85.80 L249.65,85.84 L249.90,85.88 L250.15,85.92 L250.40,85.96 L250.65,86.00 L250.90,86.05 L251.15,86.09 L251.40,86.14 L251.65,86.18 L251.90,86.23 L252.15,86.28 L252.40,86.32 L252.65,86.37 L252.90,86.42 L253.15,86.47 L253.40,86.52 L253.65,86.57 L253.90,86.62 L254.15,86.66 L254.40,86.71 L254.65,86.76 L254.90,86.81 L255.15,86.85 L255.40,86.90 L255.65,86.95 L255.90,86.99 L256.15,87.04 L256.40,87.08 L256.50,87.10 L256.65,87.13 L256.90,87.17 L257.15,87.22 L257.40,87.26 L257.65,87.31 L257.90,87.35 L258.15,87.40 L258.40,87.45 L258.65,87.49 L258.90,87.54 L259.15,87.59 L259.40,87.64 L259.65,87.69 L259.90,87.74 L260.15,87.78 L260.40,87.83 L260.65,87.88 L260.90,87.93 L261.15,87.98 L261.40,88.02 L261.65,88.07 L261.90,88.12 L262.15,88.17 L262.40,88.21 L262.65,88.26 L262.90,88.30 L263.15,88.35 L263.40,88.39 L263.65,88.44 L263.90,88.48 L264.15,88.52 L264.40,88.56 L264.65,88.60 L264.90,88.64 L265.15,88.68 L265.40,88.72 L265.65,88.75 L265.90,88.79 L266.00,88.80 L266.15,88.82 L266.40,88.85 L266.65,88.89 L266.90,88.92 L267.15,88.95 L267.40,88.98 L267.65,89.01 L267.90,89.04 L268.15,89.07 L268.40,89.10 L268.65,89.12 L268.90,89.15 L269.15,89.18 L269.40,89.21 L269.65,89.23 L269.90,89.26 L270.15,89.29 L270.40,89.31 L270.65,89.34 L270.90,89.36 L271.15,89.39 L271.40,89.41 L271.65,89.44 L271.90,89.46 L272.15,89.49 L272.40,89.51 L272.65,89.54 L272.90,89.56 L273.15,89.59 L273.40,89.61 L273.65,89.64 L273.90,89.66 L274.15,89.69 L274.40,89.72 L274.65,89.74 L274.90,89.77 L275.15,89.79 L275.20,89.80 L275.40,89.82 L275.65,89.85 L275.90,89.88 L276.15,89.90 L276.40,89.93 L276.65,89.96 L276.90,89.98 L277.15,90.01 L277.40,90.04 L277.65,90.07 L277.90,90.09 L278.15,90.12 L278.40,90.15 L278.65,90.18 L278.90,90.20 L279.15,90.23 L279.40,90.26 L279.65,90.29 L279.90,90.32 L280.15,90.34 L280.40,90.37 L280.65,90.40 L280.90,90.43 L281.15,90.45 L281.40,90.48 L281.65,90.51 L281.90,90.54 L282.15,90.56 L282.40,90.59 L282.65,90.62 L282.90,90.65 L283.15,90.67 L283.40,90.70 L283.65,90.73 L283.90,90.75 L284.15,90.78 L284.40,90.81 L284.65,90.83 L284.90,90.86 L285.15,90.89 L285.40,90.91 L285.65,90.94 L285.90,90.97 L286.15,90.99 L286.40,91.02 L286.65,91.04 L286.90,91.07 L287.15,91.09 L287.40,91.12 L287.65,91.14 L287.90,91.17 L288.15,91.19 L288.40,91.22 L288.65,91.24 L288.90,91.27 L289.15,91.29 L289.40,91.32 L289.65,91.34 L289.90,91.36 L290.15,91.39 L290.30,91.40 L290.40,91.41 L290.65,91.43 L290.90,91.45 L291.15,91.48 L291.40,91.50 L291.65,91.52 L291.90,91.55 L292.15,91.57 L292.40,91.59 L292.65,91.61 L292.90,91.64 L293.15,91.66 L293.40,91.68 L293.65,91.70 L293.90,91.72 L294.15,91.75 L294.40,91.77 L294.65,91.79 L294.90,91.81 L295.15,91.83 L295.40,91.85 L295.65,91.88 L295.90,91.90 L296.15,91.92 L296.40,91.94 L296.65,91.96 L296.90,91.98 L297.15,92.00 L297.40,92.02 L297.65,92.04 L297.90,92.07 L298.15,92.09 L298.40,92.11 L298.65,92.13 L298.90,92.15 L299.15,92.17 L299.40,92.19 L299.65,92.21 L299.90,92.23 L300.15,92.25 L300.40,92.27 L300.65,92.29 L300.90,92.31 L301.15,92.33 L301.40,92.35 L301.65,92.37 L301.90,92.39 L302.15,92.41 L302.40,92.43 L302.65,92.45 L302.90,92.47 L303.15,92.49 L303.40,92.51 L303.65,92.53 L303.90,92.55 L304.15,92.57 L304.40,92.59 L304.65,92.61 L304.90,92.63 L305.15,92.65 L305.40,92.66 L305.65,92.68 L305.90,92.70 L306.15,92.72 L306.40,92.74 L306.65,92.76 L306.90,92.78 L307.15,92.80 L307.40,92.82 L307.65,92.84 L307.90,92.85 L308.15,92.87 L308.40,92.89 L308.65,92.91 L308.90,92.93 L309.15,92.95 L309.40,92.97 L309.65,92.98 L309.90,93.00 L310.15,93.02 L310.40,93.04 L310.65,93.06 L310.90,93.08 L311.15,93.09 L311.40,93.11 L311.65,93.13 L311.90,93.15 L312.15,93.17 L312.40,93.19 L312.65,93.20 L312.90,93.22 L313.15,93.24 L313.40,93.26 L313.65,93.28 L313.90,93.29 L314.15,93.31 L314.40,93.33 L314.65,93.35 L314.90,93.36 L315.15,93.38 L315.40,93.40 L315.65,93.42 L315.90,93.43 L316.15,93.45 L316.40,93.47 L316.65,93.48 L316.90,93.50 L317.15,93.52 L317.40,93.53 L317.65,93.55 L317.90,93.56 L318.15,93.58 L318.40,93.59 L318.65,93.61 L318.90,93.62 L319.15,93.64 L319.40,93.65 L319.65,93.67 L319.90,93.69 L320.15,93.70 L320.40,93.72 L320.65,93.73 L320.90,93.75 L321.15,93.77 L321.40,93.78 L321.65,93.80 L321.90,93.82 L322.15,93.84 L322.40,93.85 L322.65,93.87 L322.90,93.89 L323.00,93.90 L323.15,93.91 L323.40,93.93 L323.65,93.95 L323.90,93.97 L324.15,93.99 L324.40,94.02 L324.65,94.04 L324.90,94.06 L325.15,94.08 L325.40,94.11 L325.65,94.13 L325.90,94.15 L326.15,94.18 L326.40,94.20 L326.65,94.23 L326.90,94.25 L327.15,94.28 L327.40,94.30 L327.65,94.33 L327.90,94.35 L328.15,94.38 L328.40,94.40 L328.65,94.43 L328.90,94.46 L329.15,94.48 L329.40,94.51 L329.65,94.54 L329.90,94.57 L330.15,94.59 L330.40,94.62 L330.65,94.65 L330.90,94.68 L331.15,94.71 L331.40,94.74 L331.65,94.76 L331.90,94.79 L332.15,94.82 L332.40,94.85 L332.65,94.88 L332.90,94.91 L333.15,94.94 L333.40,94.97 L333.65,95.00 L333.90,95.03 L334.15,95.06 L334.40,95.09 L334.65,95.12 L334.90,95.15 L335.15,95.18 L335.40,95.21 L335.65,95.24 L335.90,95.27 L336.15,95.30 L336.40,95.33 L336.65,95.37 L336.90,95.40 L337.15,95.43 L337.40,95.46 L337.65,95.49 L337.90,95.52 L338.15,95.55 L338.40,95.58 L338.65,95.61 L338.90,95.64 L339.15,95.67 L339.40,95.71 L339.65,95.74 L339.90,95.77 L340.15,95.80 L340.40,95.83 L340.65,95.86 L340.90,95.89 L341.15,95.92 L341.40,95.95 L341.65,95.98 L341.90,96.01 L342.15,96.04 L342.40,96.07 L342.65,96.10 L342.90,96.13 L343.15,96.16 L343.40,96.19 L343.65,96.22 L343.90,96.25 L344.15,96.28 L344.40,96.30 L344.65,96.33 L344.90,96.36 L345.15,96.39 L345.40,96.42 L345.65,96.45 L345.90,96.47 L346.15,96.50 L346.40,96.53 L346.65,96.56 L346.90,96.58 L347.15,96.61 L347.40,96.64 L347.65,96.66 L347.90,96.69 L348.00,96.70 L348.15,96.72 L348.40,96.74 L348.65,96.77 L348.90,96.79 L349.15,96.82 L349.40,96.84 L349.65,96.87 L349.90,96.90 L350.15,96.92 L350.40,96.95 L350.65,96.97 L350.90,97.00 L351.15,97.02 L351.40,97.05 L351.65,97.08 L351.90,97.10 L352.15,97.13 L352.40,97.15 L352.65,97.18 L352.90,97.20 L353.15,97.23 L353.40,97.25 L353.65,97.28 L353.90,97.30 L354.15,97.33 L354.40,97.36 L354.65,97.38 L354.90,97.41 L355.15,97.43 L355.40,97.46 L355.65,97.48 L355.90,97.51 L356.15,97.53 L356.40,97.56 L356.65,97.58 L356.90,97.61 L357.15,97.63 L357.40,97.66 L357.65,97.68 L357.90,97.71 L358.15,97.73 L358.40,97.75 L358.65,97.78 L358.90,97.80 L359.15,97.83 L359.40,97.85 L359.65,97.88 L359.90,97.90 L360.15,97.93 L360.40,97.95 L360.65,97.97 L360.90,98.00 L361.15,98.02 L361.40,98.05 L361.65,98.07 L361.90,98.10 L362.15,98.12 L362.40,98.14 L362.65,98.17 L362.90,98.19 L363.15,98.21 L363.40,98.24 L363.65,98.26 L363.90,98.29 L364.15,98.31 L364.40,98.33 L364.65,98.36 L364.90,98.38 L365.15,98.40 L365.40,98.43 L365.65,98.45 L365.90,98.47 L366.15,98.50 L366.40,98.52 L366.65,98.54 L366.90,98.56 L367.15,98.59 L367.40,98.61 L367.65,98.63 L367.90,98.65 L368.15,98.68 L368.40,98.70 L368.65,98.72 L368.90,98.74 L369.15,98.77 L369.40,98.79 L369.65,98.81 L369.90,98.83 L370.15,98.86 L370.40,98.88 L370.65,98.90 L370.90,98.92 L371.15,98.94 L371.40,98.96 L371.65,98.99 L371.90,99.01 L372.15,99.03 L372.40,99.05 L372.65,99.07 L372.90,99.09 L373.00,99.10 L373.15,99.11 L373.40,99.13 L373.65,99.15 L373.90,99.18 L374.15,99.20 L374.40,99.22 L374.65,99.24 L374.90,99.26 L375.15,99.28 L375.40,99.30 L375.65,99.32 L375.90,99.34 L376.15,99.37 L376.40,99.39 L376.65,99.41 L376.90,99.43 L377.15,99.45 L377.40,99.47 L377.65,99.49 L377.90,99.51 L378.15,99.53 L378.40,99.55 L378.65,99.58 L378.90,99.60 L379.15,99.62 L379.40,99.64 L379.65,99.66 L379.90,99.68 L380.15,99.70 L380.40,99.72 L380.65,99.74 L380.90,99.76 L381.15,99.78 L381.40,99.80 L381.65,99.82 L381.90,99.84 L382.15,99.86 L382.40,99.89 L382.65,99.91 L382.90,99.93 L383.15,99.95 L383.40,99.97 L383.65,99.99 L383.90,100.01 L384.15,100.03 L384.40,100.05 L384.65,100.07 L384.90,100.09 L385.15,100.11 L385.40,100.12 L385.65,100.14 L385.90,100.16 L386.15,100.18 L386.40,100.20 L386.65,100.22 L386.90,100.24 L387.15,100.26 L387.40,100.28 L387.65,100.30 L387.90,100.32 L388.15,100.33 L388.40,100.35 L388.65,100.37 L388.90,100.39 L389.15,100.41 L389.40,100.43 L389.65,100.44 L389.90,100.46 L390.15,100.48 L390.40,100.50 L390.65,100.52 L390.90,100.53 L391.15,100.55 L391.40,100.57 L391.65,100.59 L391.90,100.60 L392.15,100.62 L392.40,100.64 L392.65,100.65 L392.90,100.67 L393.15,100.69 L393.40,100.70 L393.65,100.72 L393.90,100.74 L394.15,100.75 L394.40,100.77 L394.65,100.78 L394.90,100.80 L395.15,100.81 L395.40,100.83 L395.65,100.84 L395.90,100.86 L396.15,100.87 L396.40,100.89 L396.65,100.90 L396.90,100.92 L397.15,100.93 L397.40,100.95 L397.65,100.96 L397.90,100.97 L398.15,100.99 L398.40,101.00 L398.65,101.01 L398.90,101.03 L399.15,101.04 L399.40,101.05 L399.65,101.07 L399.90,101.08 L400.15,101.09 L400.40,101.11 L400.65,101.12 L400.90,101.13 L401.15,101.14 L401.40,101.16 L401.65,101.17 L401.90,101.18 L402.15,101.20 L402.40,101.21 L402.65,101.22 L402.90,101.23 L403.15,101.25 L403.40,101.26 L403.65,101.27 L403.90,101.28 L404.15,101.29 L404.40,101.31 L404.65,101.32 L404.90,101.33 L405.15,101.34 L405.40,101.36 L405.65,101.37 L405.90,101.38 L406.15,101.39 L406.40,101.40 L406.65,101.41 L406.90,101.43 L407.15,101.44 L407.40,101.45 L407.65,101.46 L407.90,101.47 L408.15,101.48 L408.40,101.49 L408.65,101.51 L408.90,101.52 L409.15,101.53 L409.40,101.54 L409.65,101.55 L409.90,101.56 L410.15,101.57 L410.40,101.58 L410.65,101.59 L410.90,101.60 L411.15,101.61 L411.40,101.62 L411.65,101.63 L411.90,101.64 L412.15,101.65 L412.40,101.67 L412.65,101.68 L412.90,101.69 L413.15,101.69 L413.40,101.70 L413.65,101.71 L413.90,101.72 L414.15,101.73 L414.40,101.74 L414.65,101.75 L414.90,101.76 L415.15,101.77 L415.40,101.78 L415.65,101.79 L415.90,101.80 L416.15,101.81 L416.40,101.82 L416.65,101.82 L416.90,101.83 L417.15,101.84 L417.40,101.85 L417.65,101.86 L417.90,101.87 L418.15,101.87 L418.40,101.88 L418.65,101.89 L418.90,101.90 L419.15,101.91 L419.40,101.91 L419.65,101.92 L419.90,101.93 L420.15,101.94 L420.40,101.94 L420.65,101.95 L420.90,101.96 L421.15,101.96 L421.40,101.97 L421.65,101.98 L421.90,101.98 L422.15,101.99 L422.40,102.00 L422.50,102.00" stroke="#ff0000"/>
<path d="M72.10,0.00 L72.35,11.86 L72.50,18.60 L72.60,22.81 L72.65,25.00 L72.85,35.35 L73.10,49.64 L73.35,62.06 L73.40,64.00 L73.60,70.65 L73.85,77.61 L74.10,83.79 L74.15,85.00 L74.35,89.58 L74.60,94.83 L74.85,100.00 L75.10,105.78 L75.35,111.86 L75.60,117.25 L75.85,121.00 L76.10,123.38 L76.35,125.38 L76.60,127.07 L76.85,128.54 L77.10,129.86 L77.35,131.11 L77.60,132.37 L77.85,133.71 L77.90,134.00 L78.10,135.24 L78.35,136.92 L78.60,138.57 L78.85,140.01 L79.10,141.07 L79.30,141.50 L79.35,141.55 L79.60,141.80 L79.85,142.01 L80.10,142.17 L80.35,142.27 L80.60,142.30 L80.85,142.27 L81.10,142.20 L81.35,142.09 L81.60,141.98 L81.85,141.86 L82.10,141.77 L82.35,141.71 L82.50,141.70 L82.60,141.71 L82.85,141.77 L83.10,141.90 L83.35,142.08 L83.50,142.20 L83.60,142.31 L83.85,142.80 L84.10,143.51 L84.35,144.34 L84.60,145.18 L84.70,145.50 L84.85,145.99 L85.10,146.91 L85.35,147.89 L85.60,148.86 L85.85,149.75 L86.10,150.50 L86.35,151.14 L86.60,151.75 L86.85,152.33 L87.10,152.85 L87.35,153.32 L87.60,153.72 L87.85,154.05 L87.90,154.10 L88.10,154.31 L88.35,154.56 L88.60,154.80 L88.85,155.02 L89.10,155.22 L89.35,155.40 L89.60,155.55 L89.85,155.67 L90.10,155.75 L90.35,155.80 L90.40,155.80 L90.60,155.81 L90.85,155.82 L91.10,155.83 L91.35,155.83 L91.60,155.84 L91.85,155.84 L92.10,155.85 L92.35,155.85 L92.60,155.85 L92.85,155.86 L93.10,155.86 L93.35,155.86 L93.60,155.87 L93.85,155.87 L94.10,155.88 L94.35,155.89 L94.60,155.90 L94.85,155.92 L95.10,155.94 L95.35,155.97 L95.60,156.01 L95.85,156.05 L96.10,156.11 L96.35,156.16 L96.60,156.22 L96.85,156.28 L97.10,156.35 L97.35,156.42 L97.60,156.49 L97.85,156.56 L98.00,156.60 L98.10,156.63 L98.35,156.70 L98.60,156.79 L98.85,156.88 L99.10,156.98 L99.35,157.08 L99.60,157.20 L99.85,157.32 L100.00,157.40 L100.10,157.46 L100.35,157.61 L100.60,157.80 L100.85,158.00 L101.10,158.23 L101.35,158.46 L101.60,158.70 L101.85,158.95 L102.10,159.20 L102.35,159.45 L102.60,159.69 L102.85,159.92 L103.10,160.14 L103.30,160.30 L103.35,160.34 L103.60,160.53 L103.85,160.73 L104.10,160.93 L104.35,161.12 L104.60,161.32 L104.85,161.51 L105.10,161.69 L105.35,161.87 L105.60,162.03 L105.85,162.19 L106.10,162.33 L106.35,162.45 L106.60,162.56 L106.70,162.60 L106.85,162.66 L107.10,162.75 L107.35,162.84 L107.60,162.93 L107.85,163.01 L108.10,163.10 L108.35,163.18 L108.60,163.26 L108.85,163.33 L109.10,163.40 L109.35,163.46 L109.60,163.52 L109.85,163.57 L110.10,163.61 L110.35,163.64 L110.60,163.67 L110.85,163.69 L111.10,163.70 L111.20,163.70 L111.35,163.70 L111.60,163.68 L111.85,163.65 L112.10,163.61 L112.35,163.56 L112.60,163.50 L112.85,163.43 L113.10,163.35 L113.35,163.26 L113.60,163.17 L113.85,163.07 L114.10,162.97 L114.35,162.86 L114.60,162.75 L114.85,162.64 L115.10,162.52 L115.35,162.41 L115.60,162.30 L115.85,162.18 L116.10,162.06 L116.35,161.92 L116.60,161.77 L116.85,161.61 L117.10,161.45 L117.35,161.28 L117.60,161.10 L117.85,160.91 L118.10,160.71 L118.35,160.51 L118.60,160.31 L118.85,160.10 L119.10,159.89 L119.35,159.67 L119.60,159.45 L119.85,159.22 L120.10,159.00 L120.35,158.77 L120.60,158.53 L120.85,158.27 L121.10,158.01 L121.35,157.74 L121.60,157.46 L121.85,157.17 L122.10,156.87 L122.35,156.57 L122.60,156.27 L122.85,155.96 L123.10,155.65 L123.35,155.33 L123.60,155.01 L123.85,154.69 L124.00,154.50 L124.10,154.37 L124.35,154.04 L124.60,153.71 L124.85,153.36 L125.10,153.02 L125.35,152.66 L125.60,152.30 L125.85,151.94 L126.10,151.57 L126.35,151.20 L126.60,150.83 L126.85,150.46 L127.10,150.08 L127.35,149.71 L127.60,149.34 L127.85,148.97 L127.90,148.90 L128.10,148.61 L128.35,148.23 L128.60,147.85 L128.85,147.47 L129.10,147.09 L129.35,146.71 L129.60,146.32 L129.85,145.94 L130.10,145.57 L130.35,145.19 L130.60,144.82 L130.85,144.46 L131.10,144.11 L131.25,143.90 L131.35,143.76 L131.60,143.43 L131.85,143.10 L132.10,142.78 L132.35,142.47 L132.60,142.16 L132.85,141.85 L133.10,141.54 L133.35,141.23 L133.60,140.91 L133.85,140.59 L134.10,140.27 L134.30,140.00 L134.35,139.93 L134.60,139.59 L134.85,139.25 L135.10,138.90 L135.35,138.54 L135.60,138.19 L135.85,137.83 L136.10,137.46 L136.35,137.10 L136.60,136.73 L136.85,136.36 L137.10,135.99 L137.35,135.62 L137.60,135.25 L137.85,134.87 L138.10,134.50 L138.35,134.12 L138.60,133.75 L138.85,133.37 L139.10,133.00 L139.35,132.62 L139.60,132.25 L139.85,131.88 L140.10,131.51 L140.35,131.14 L140.60,130.78 L140.85,130.42 L141.00,130.20 L141.10,130.06 L141.35,129.70 L141.60,129.33 L141.85,128.97 L142.10,128.61 L142.35,128.24 L142.60,127.88 L142.85,127.51 L143.10,127.15 L143.35,126.79 L143.60,126.42 L143.85,126.06 L144.10,125.70 L144.35,125.34 L144.60,124.98 L144.85,124.63 L145.10,124.27 L145.35,123.92 L145.60,123.57 L145.85,123.22 L146.10,122.87 L146.35,122.53 L146.60,122.19 L146.85,121.86 L147.10,121.52 L147.35,121.20 L147.50,121.00 L147.60,120.87 L147.85,120.55 L148.10,120.23 L148.35,119.92 L148.60,119.60 L148.85,119.30 L149.10,118.99 L149.35,118.68 L149.60,118.38 L149.85,118.08 L150.10,117.78 L150.35,117.49 L150.60,117.19 L150.85,116.90 L151.10,116.61 L151.35,116.32 L151.60,116.03 L151.85,115.74 L152.10,115.45 L152.35,115.16 L152.40,115.10 L152.60,114.87 L152.85,114.58 L153.10,114.28 L153.35,113.99 L153.60,113.69 L153.85,113.39 L154.10,113.10 L154.35,112.80 L154.60,112.51 L154.85,112.23 L155.10,111.94 L155.35,111.66 L155.60,111.39 L155.85,111.12 L156.10,110.86 L156.35,110.61 L156.60,110.37 L156.85,110.14 L157.00,110.00 L157.10,109.91 L157.35,109.69 L157.60,109.48 L157.85,109.27 L158.10,109.06 L158.35,108.86 L158.60,108.66 L158.85,108.46 L159.10,108.27 L159.35,108.08 L159.60,107.90 L159.85,107.71 L160.10,107.53 L160.35,107.36 L160.60,107.18 L160.85,107.01 L161.10,106.84 L161.35,106.67 L161.60,106.50 L161.85,106.34 L162.10,106.18 L162.35,106.01 L162.60,105.85 L162.85,105.70 L163.00,105.60 L163.10,105.54 L163.35,105.38 L163.60,105.22 L163.85,105.07 L164.10,104.92 L164.35,104.77 L164.60,104.62 L164.85,104.47 L165.10,104.33 L165.35,104.18 L165.60,104.04 L165.85,103.90 L166.10,103.76 L166.35,103.63 L166.60,103.50 L166.85,103.37 L167.10,103.24 L167.35,103.11 L167.60,102.99 L167.85,102.87 L168.00,102.80 L168.10,102.75 L168.35,102.64 L168.60,102.52 L168.85,102.41 L169.10,102.30 L169.35,102.19 L169.60,102.09 L169.85,101.98 L170.10,101.88 L170.35,101.77 L170.60,101.67 L170.85,101.57 L171.10,101.47 L171.35,101.38 L171.60,101.28 L171.85,101.19 L172.10,101.09 L172.35,101.00 L172.60,100.91 L172.85,100.82 L173.10,100.74 L173.35,100.65 L173.50,100.60 L173.60,100.57 L173.85,100.48 L174.10,100.40 L174.35,100.32 L174.60,100.23 L174.85,100.15 L175.10,100.07 L175.35,99.99 L175.60,99.92 L175.85,99.84 L176.10,99.76 L176.35,99.69 L176.60,99.61 L176.85,99.54 L177.10,99.47 L177.35,99.40 L177.60,99.32 L177.85,99.25 L178.10,99.19 L178.35,99.12 L178.60,99.05 L178.85,98.99 L179.10,98.92 L179.35,98.86 L179.60,98.80 L179.85,98.74 L180.00,98.70 L180.10,98.68 L180.35,98.62 L180.60,98.56 L180.85,98.50 L181.10,98.44 L181.35,98.38 L181.60,98.33 L181.85,98.27 L182.10,98.22 L182.35,98.16 L182.60,98.11 L182.85,98.05 L183.10,98.00 L183.35,97.95 L183.60,97.90 L183.85,97.85 L184.10,97.79 L184.35,97.74 L184.60,97.70 L184.85,97.65 L185.10,97.60 L185.35,97.55 L185.60,97.51 L185.85,97.46 L186.10,97.42 L186.35,97.37 L186.60,97.33 L186.85,97.29 L187.10,97.24 L187.35,97.20 L187.60,97.16 L187.85,97.12 L188.00,97.10 L188.10,97.08 L188.35,97.05 L188.60,97.01 L188.85,96.97 L189.10,96.93 L189.35,96.89 L189.60,96.85 L189.85,96.81 L190.10,96.78 L190.35,96.74 L190.60,96.70 L190.85,96.66 L191.10,96.63 L191.35,96.59 L191.60,96.55 L191.85,96.52 L192.10,96.49 L192.35,96.45 L192.60,96.42 L192.85,96.39 L193.10,96.36 L193.35,96.33 L193.60,96.30 L193.85,96.27 L194.10,96.25 L194.35,96.22 L194.60,96.20 L194.85,96.18 L195.10,96.16 L195.35,96.14 L195.60,96.12 L195.85,96.11 L196.00,96.10 L196.10,96.09 L196.35,96.08 L196.60,96.07 L196.85,96.06 L197.10,96.04 L197.35,96.03 L197.60,96.02 L197.85,96.01 L198.10,95.99 L198.35,95.98 L198.60,95.97 L198.85,95.96 L199.10,95.95 L199.35,95.94 L199.60,95.93 L199.85,95.92 L200.10,95.91 L200.35,95.90 L200.60,95.89 L200.85,95.88 L201.10,95.87 L201.35,95.86 L201.60,95.85 L201.85,95.85 L202.10,95.84 L202.35,95.83 L202.60,95.83 L202.85,95.82 L203.10,95.82 L203.35,95.81 L203.60,95.81 L203.85,95.81 L204.10,95.80 L204.35,95.80 L204.60,95.80 L204.85,95.80 L205.00,95.80 L205.10,95.80 L205.35,95.80 L205.60,95.80 L205.85,95.80 L206.10,95.80 L206.35,95.81 L206.60,95.81 L206.85,95.81 L207.10,95.81 L207.35,95.82 L207.60,95.82 L207.85,95.82 L208.10,95.83 L208.35,95.83 L208.60,95.84 L208.85,95.84 L209.10,95.85 L209.35,95.85 L209.60,95.86 L209.85,95.86 L210.10,95.87 L210.35,95.88 L210.60,95.88 L210.85,95.89 L211.10,95.89 L211.35,95.90 L211.60,95.91 L211.85,95.91 L212.10,95.92 L212.35,95.93 L212.60,95.93 L212.85,95.94 L213.10,95.95 L213.35,95.96 L213.60,95.96 L213.85,95.97 L214.10,95.98 L214.35,95.98 L214.60,95.99 L214.85,96.00 L215.00,96.00 L215.10,96.00 L215.35,96.01 L215.60,96.02 L215.85,96.02 L216.10,96.03 L216.35,96.04 L216.60,96.05 L216.85,96.06 L217.10,96.06 L217.35,96.07 L217.60,96.08 L217.85,96.09 L218.10,96.10 L218.35,96.11 L218.60,96.12 L218.85,96.13 L219.10,96.14 L219.35,96.15 L219.60,96.16 L219.85,96.17 L220.10,96.18 L220.35,96.19 L220.60,96.20 L220.85,96.21 L221.10,96.22 L221.35,96.23 L221.60,96.24 L221.85,96.25 L222.10,96.26 L222.35,96.27 L222.60,96.28 L222.85,96.30 L223.10,96.31 L223.35,96.32 L223.60,96.33 L223.85,96.34 L224.10,96.35 L224.35,96.36 L224.60,96.37 L224.85,96.38 L225.10,96.39 L225.35,96.40 L225.40,96.40 L225.60,96.41 L225.85,96.42 L226.10,96.43 L226.35,96.44 L226.60,96.45 L226.85,96.46 L227.10,96.47 L227.35,96.48 L227.60,96.49 L227.85,96.50 L228.10,96.51 L228.35,96.52 L228.60,96.53 L228.85,96.54 L229.10,96.55 L229.35,96.56 L229.60,96.56 L229.85,96.57 L230.10,96.58 L230.35,96.59 L230.60,96.60 L230.85,96.61 L231.10,96.62 L231.35,96.63 L231.60,96.64 L231.85,96.65 L232.10,96.66 L232.35,96.67 L232.60,96.68 L232.85,96.69 L233.10,96.70 L233.35,96.71 L233.60,96.72 L233.85,96.73 L234.10,96.74 L234.35,96.75 L234.60,96.76 L234.85,96.77 L235.10,96.78 L235.35,96.79 L235.60,96.80 L235.85,96.81 L236.10,96.82 L236.35,96.83 L236.60,96.84 L236.85,96.85 L237.10,96.86 L237.35,96.87 L237.60,96.88 L237.85,96.89 L238.10,96.90 L238.35,96.91 L238.60,96.92 L238.85,96.93 L239.10,96.94 L239.35,96.95 L239.60,96.96 L239.85,96.97 L240.10,96.98 L240.35,96.99 L240.60,97.00 L240.85,97.01 L241.10,97.02 L241.35,97.03 L241.60,97.04 L241.85,97.05 L242.10,97.06 L242.35,97.07 L242.60,97.08 L242.85,97.09 L243.10,97.10 L243.35,97.11 L243.60,97.12 L243.85,97.13 L244.10,97.14 L244.35,97.15 L244.60,97.16 L244.85,97.17 L245.10,97.18 L245.35,97.19 L245.60,97.20 L245.85,97.21 L246.10,97.22 L246.35,97.23 L246.60,97.24 L246.85,97.25 L247.10,97.26 L247.35,97.27 L247.60,97.28 L247.85,97.29 L248.00,97.30 L248.10,97.30 L248.35,97.31 L248.60,97.32 L248.85,97.33 L249.10,97.34 L249.35,97.35 L249.60,97.36 L249.85,97.37 L250.10,97.38 L250.35,97.39 L250.60,97.40 L250.85,97.41 L251.10,97.42 L251.35,97.43 L251.60,97.44 L251.85,97.45 L252.10,97.46 L252.35,97.47 L252.60,97.48 L252.85,97.49 L253.10,97.50 L253.35,97.51 L253.60,97.52 L253.85,97.53 L254.10,97.54 L254.35,97.55 L254.60,97.56 L254.85,97.57 L255.10,97.58 L255.35,97.59 L255.60,97.60 L255.85,97.60 L256.10,97.61 L256.35,97.62 L256.60,97.63 L256.85,97.64 L257.10,97.65 L257.35,97.66 L257.60,97.67 L257.85,97.68 L258.10,97.69 L258.35,97.70 L258.60,97.71 L258.85,97.72 L259.10,97.73 L259.35,97.74 L259.60,97.75 L259.85,97.76 L260.10,97.77 L260.35,97.78 L260.60,97.79 L260.85,97.80 L261.10,97.81 L261.35,97.81 L261.60,97.82 L261.85,97.83 L262.10,97.84 L262.35,97.85 L262.60,97.86 L262.85,97.87 L263.10,97.88 L263.35,97.89 L263.60,97.90 L263.85,97.91 L264.10,97.92 L264.35,97.93 L264.60,97.94 L264.85,97.95 L265.10,97.96 L265.35,97.97 L265.60,97.98 L265.85,97.99 L266.10,98.00 L266.35,98.01 L266.60,98.02 L266.85,98.03 L267.10,98.04 L267.35,98.05 L267.60,98.06 L267.85,98.07 L268.10,98.08 L268.35,98.09 L268.60,98.11 L268.85,98.12 L269.10,98.13 L269.35,98.14 L269.60,98.15 L269.85,98.16 L270.10,98.17 L270.35,98.18 L270.60,98.19 L270.85,98.20 L271.10,98.21 L271.35,98.22 L271.60,98.23 L271.85,98.25 L272.10,98.26 L272.35,98.27 L272.60,98.28 L272.85,98.29 L273.10,98.30 L273.35,98.31 L273.60,98.33 L273.85,98.34 L274.10,98.35 L274.35,98.36 L274.60,98.37 L274.85,98.38 L275.10,98.40 L275.20,98.40 L275.35,98.41 L275.60,98.42 L275.85,98.43 L276.10,98.44 L276.35,98.46 L276.60,98.47 L276.85,98.48 L277.10,98.49 L277.35,98.51 L277.60,98.52 L277.85,98.53 L278.10,98.54 L278.35,98.56 L278.60,98.57 L278.85,98.58 L279.10,98.60 L279.35,98.61 L279.60,98.62 L279.85,98.63 L280.10,98.65 L280.35,98.66 L280.60,98.68 L280.85,98.69 L281.10,98.70 L281.35,98.72 L281.60,98.73 L281.85,98.74 L282.10,98.76 L282.35,98.77 L282.60,98.79 L282.85,98.80 L283.10,98.81 L283.35,98.83 L283.60,98.84 L283.85,98.86 L284.10,98.87 L284.35,98.88 L284.60,98.90 L284.85,98.91 L285.10,98.93 L285.35,98.94 L285.60,98.96 L285.85,98.97 L286.10,98.99 L286.35,99.00 L286.60,99.02 L286.85,99.03 L287.10,99.05 L287.35,99.06 L287.60,99.08 L287.85,99.09 L288.10,99.11 L288.35,99.12 L288.60,99.14 L288.85,99.15 L289.10,99.17 L289.35,99.18 L289.60,99.20 L289.85,99.21 L290.10,99.23 L290.35,99.24 L290.60,99.26 L290.85,99.27 L291.10,99.29 L291.35,99.30 L291.60,99.32 L291.85,99.33 L292.10,99.35 L292.35,99.37 L292.60,99.38 L292.85,99.40 L293.10,99.41 L293.35,99.43 L293.60,99.44 L293.85,99.46 L294.10,99.48 L294.35,99.49 L294.60,99.51 L294.85,99.52 L295.10,99.54 L295.35,99.55 L295.60,99.57 L295.85,99.59 L296.10,99.60 L296.35,99.62 L296.60,99.63 L296.85,99.65 L297.10,99.67 L297.35,99.68 L297.60,99.70 L297.85,99.71 L298.10,99.73 L298.35,99.75 L298.60,99.76 L298.85,99.78 L299.10,99.79 L299.35,99.81 L299.60,99.83 L299.85,99.84 L300.10,99.86 L300.35,99.87 L300.60,99.89 L300.85,99.91 L301.10,99.92 L301.35,99.94 L301.60,99.95 L301.85,99.97 L302.10,99.98 L302.35,100.00 L302.60,100.02 L302.85,100.03 L303.10,100.05 L303.35,100.06 L303.60,100.08 L303.85,100.10 L304.10,100.11 L304.35,100.13 L304.60,100.14 L304.85,100.16 L305.10,100.18 L305.35,100.19 L305.60,100.21 L305.85,100.22 L306.10,100.24 L306.35,100.25 L306.60,100.27 L306.85,100.29 L307.10,100.30 L307.35,100.32 L307.60,100.33 L307.85,100.35 L308.10,100.36 L308.35,100.38 L308.60,100.39 L308.85,100.41 L309.10,100.42 L309.35,100.44 L309.60,100.46 L309.85,100.47 L310.10,100.49 L310.35,100.50 L310.60,100.52 L310.85,100.53 L311.10,100.55 L311.35,100.56 L311.60,100.58 L311.85,100.59 L312.10,100.61 L312.35,100.62 L312.60,100.64 L312.85,100.65 L313.10,100.67 L313.35,100.68 L313.60,100.70 L313.85,100.71 L314.10,100.72 L314.35,100.74 L314.60,100.75 L314.85,100.77 L315.10,100.78 L315.35,100.80 L315.40,100.80 L315.60,100.81 L315.85,100.83 L316.10,100.84 L316.35,100.85 L316.60,100.87 L316.85,100.88 L317.10,100.90 L317.35,100.91 L317.60,100.93 L317.85,100.94 L318.10,100.96 L318.35,100.97 L318.60,100.98 L318.85,101.00 L319.10,101.01 L319.35,101.03 L319.60,101.04 L319.85,101.06 L320.10,101.07 L320.35,101.09 L320.60,101.10 L320.85,101.12 L321.10,101.13 L321.35,101.14 L321.60,101.16 L321.85,101.17 L322.10,101.19 L322.35,101.20 L322.60,101.22 L322.85,101.23 L323.10,101.25 L323.35,101.26 L323.60,101.28 L323.85,101.29 L324.10,101.31 L324.35,101.32 L324.60,101.33 L324.85,101.35 L325.10,101.36 L325.35,101.38 L325.60,101.39 L325.85,101.41 L326.10,101.42 L326.35,101.44 L326.60,101.45 L326.85,101.47 L327.10,101.48 L327.35,101.50 L327.60,101.51 L327.85,101.52 L328.10,101.54 L328.35,101.55 L328.60,101.57 L328.85,101.58 L329.10,101.60 L329.35,101.61 L329.60,101.63 L329.85,101.64 L330.10,101.65 L330.35,101.67 L330.60,101.68 L330.85,101.70 L331.10,101.71 L331.35,101.73 L331.60,101.74 L331.85,101.75 L332.10,101.77 L332.35,101.78 L332.60,101.80 L332.85,101.81 L333.10,101.83 L333.35,101.84 L333.60,101.85 L333.85,101.87 L334.10,101.88 L334.35,101.90 L334.60,101.91 L334.85,101.92 L335.10,101.94 L335.35,101.95 L335.60,101.96 L335.85,101.98 L336.10,101.99 L336.35,102.01 L336.60,102.02 L336.85,102.03 L337.10,102.05 L337.35,102.06 L337.60,102.07 L337.85,102.09 L338.10,102.10 L338.35,102.12 L338.60,102.13 L338.85,102.14 L339.10,102.16 L339.35,102.17 L339.60,102.18 L339.85,102.20 L340.10,102.21 L340.35,102.22 L340.60,102.23 L340.85,102.25 L341.10,102.26 L341.35,102.27 L341.60,102.29 L341.85,102.30 L342.10,102.31 L342.35,102.33 L342.60,102.34 L342.85,102.35 L343.10,102.36 L343.35,102.38 L343.60,102.39 L343.85,102.40 L344.10,102.41 L344.35,102.43 L344.60,102.44 L344.85,102.45 L345.10,102.46 L345.35,102.47 L345.60,102.49 L345.85,102.50 L346.10,102.51 L346.35,102.52 L346.60,102.53 L346.85,102.55 L347.10,102.56 L347.35,102.57 L347.60,102.58 L347.85,102.59 L348.00,102.60 L348.10,102.60 L348.35,102.62 L348.60,102.63 L348.85,102.64 L349.10,102.65 L349.35,102.66 L349.60,102.67 L349.85,102.68 L350.10,102.69 L350.35,102.71 L350.60,102.72 L350.85,102.73 L351.10,102.74 L351.35,102.75 L351.60,102.76 L351.85,102.77 L352.10,102.78 L352.35,102.79 L352.60,102.80 L352.85,102.81 L353.10,102.82 L353.35,102.83 L353.60,102.84 L353.85,102.85 L354.10,102.86 L354.35,102.87 L354.60,102.88 L354.85,102.89 L355.10,102.90 L355.35,102.91 L355.60,102.92 L355.85,102.93 L356.10,102.94 L356.35,102.95 L356.60,102.96 L356.85,102.97 L357.10,102.98 L357.35,102.99 L357.60,103.00 L357.85,103.01 L358.10,103.02 L358.35,103.03 L358.60,103.04 L358.85,103.05 L359.10,103.06 L359.35,103.07 L359.60,103.08 L359.85,103.09 L360.10,103.10 L360.35,103.11 L360.60,103.12 L360.85,103.13 L361.10,103.14 L361.35,103.15 L361.60,103.16 L361.85,103.17 L362.10,103.17 L362.35,103.18 L362.60,103.19 L362.85,103.20 L363.10,103.21 L363.35,103.22 L363.60,103.23 L363.85,103.24 L364.10,103.25 L364.35,103.26 L364.60,103.27 L364.85,103.28 L365.10,103.29 L365.35,103.30 L365.60,103.31 L365.85,103.32 L366.10,103.33 L366.35,103.34 L366.60,103.35 L366.85,103.36 L367.10,103.37 L367.35,103.37 L367.60,103.38 L367.85,103.39 L368.10,103.40 L368.35,103.41 L368.60,103.42 L368.85,103.43 L369.10,103.44 L369.35,103.45 L369.60,103.46 L369.85,103.47 L370.10,103.48 L370.35,103.49 L370.60,103.50 L370.85,103.51 L371.10,103.52 L371.35,103.53 L371.60,103.54 L371.85,103.55 L372.10,103.56 L372.35,103.57 L372.60,103.58 L372.85,103.59 L373.00,103.60 L373.10,103.60 L373.35,103.61 L373.60,103.63 L373.85,103.64 L374.10,103.65 L374.35,103.66 L374.60,103.67 L374.85,103.68 L375.10,103.69 L375.35,103.70 L375.60,103.71 L375.85,103.72 L376.10,103.73 L376.35,103.74 L376.60,103.75 L376.85,103.76 L377.10,103.78 L377.35,103.79 L377.60,103.80 L377.85,103.81 L378.10,103.82 L378.35,103.83 L378.60,103.84 L378.85,103.85 L379.10,103.86 L379.35,103.88 L379.60,103.89 L379.85,103.90 L380.10,103.91 L380.35,103.92 L380.60,103.93 L380.85,103.94 L381.10,103.95 L381.35,103.97 L381.60,103.98 L381.85,103.99 L382.10,104.00 L382.35,104.01 L382.60,104.02 L382.85,104.03 L383.10,104.05 L383.35,104.06 L383.60,104.07 L383.85,104.08 L384.10,104.09 L384.35,104.10 L384.60,104.11 L384.85,104.12 L385.10,104.14 L385.35,104.15 L385.60,104.16 L385.85,104.17 L386.10,104.18 L386.35,104.19 L386.60,104.20 L386.85,104.21 L387.10,104.23 L387.35,104.24 L387.60,104.25 L387.85,104.26 L388.10,104.27 L388.35,104.28 L388.60,104.29 L388.85,104.30 L389.10,104.32 L389.35,104.33 L389.60,104.34 L389.85,104.35 L390.10,104.36 L390.35,104.37 L390.60,104.38 L390.85,104.39 L391.10,104.40 L391.35,104.41 L391.60,104.42 L391.85,104.43 L392.10,104.45 L392.35,104.46 L392.60,104.47 L392.85,104.48 L393.10,104.49 L393.35,104.50 L393.60,104.51 L393.85,104.52 L394.10,104.53 L394.35,104.54 L394.60,104.55 L394.85,104.56 L395.10,104.57 L395.35,104.58 L395.60,104.59 L395.85,104.60 L396.10,104.61 L396.35,104.62 L396.60,104.63 L396.85,104.64 L397.10,104.65 L397.35,104.66 L397.60,104.67 L397.85,104.68 L398.10,104.69 L398.35,104.70 L398.40,104.70 L398.60,104.71 L398.85,104.72 L399.10,104.73 L399.35,104.74 L399.60,104.74 L399.85,104.75 L400.10,104.76 L400.35,104.77 L400.60,104.78 L400.85,104.79 L401.10,104.80 L401.35,104.81 L401.60,104.82 L401.85,104.83 L402.10,104.84 L402.35,104.85 L402.60,104.85 L402.85,104.86 L403.10,104.87 L403.35,104.88 L403.60,104.89 L403.85,104.90 L404.10,104.91 L404.35,104.92 L404.60,104.93 L404.85,104.94 L405.10,104.94 L405.35,104.95 L405.60,104.96 L405.85,104.97 L406.10,104.98 L406.35,104.99 L406.60,105.00 L406.85,105.01 L407.10,105.01 L407.35,105.02 L407.60,105.03 L407.85,105.04 L408.10,105.05 L408.35,105.06 L408.60,105.07 L408.85,105.07 L409.10,105.08 L409.35,105.09 L409.60,105.10 L409.85,105.11 L410.10,105.12 L410.35,105.12 L410.60,105.13 L410.85,105.14 L411.10,105.15 L411.35,105.16 L411.60,105.17 L411.85,105.17 L412.10,105.18 L412.35,105.19 L412.60,105.20 L412.85,105.21 L413.10,105.21 L413.35,105.22 L413.60,105.23 L413.85,105.24 L414.10,105.25 L414.35,105.25 L414.60,105.26 L414.85,105.27 L415.10,105.28 L415.35,105.29 L415.60,105.29 L415.85,105.30 L416.10,105.31 L416.35,105.32 L416.60,105.33 L416.85,105.33 L417.10,105.34 L417.35,105.35 L417.60,105.36 L417.85,105.36 L418.10,105.37 L418.35,105.38 L418.60,105.39 L418.85,105.39 L419.10,105.40 L419.35,105.41 L419.60,105.42 L419.85,105.42 L420.10,105.43 L420.35,105.44 L420.60,105.45 L420.85,105.45 L421.10,105.46 L421.35,105.47 L421.60,105.47 L421.85,105.48 L422.10,105.49 L422.35,105.50 L422.50,105.50" stroke="#a0a0a0"/>
</g>
<g clip-path="url(#c)">
<g fill="#00ff00"><circle cx="77.10" cy="21.80" r="1.05"/><circle cx="78.05" cy="35.90" r="1.05"/><circle cx="78.95" cy="48.90" r="1.05"/><circle cx="79.96" cy="59.70" r="1.05"/><circle cx="80.90" cy="68.60" r="1.05"/><circle cx="81.90" cy="75.70" r="1.05"/><circle cx="82.90" cy="81.00" r="1.05"/><circle cx="84.00" cy="84.55" r="1.05"/><circle cx="85.10" cy="86.50" r="1.05"/><circle cx="86.10" cy="87.10" r="1.05"/><circle cx="87.10" cy="86.00" r="1.05"/><circle cx="88.05" cy="84.15" r="1.05"/><circle cx="89.00" cy="81.55" r="1.05"/><circle cx="90.10" cy="78.70" r="1.05"/><circle cx="91.10" cy="75.30" r="1.05"/><circle cx="92.20" cy="72.20" r="1.05"/><circle cx="93.40" cy="69.00" r="1.05"/><circle cx="94.50" cy="65.80" r="1.05"/><circle cx="95.70" cy="63.70" r="1.05"/><circle cx="96.70" cy="61.20" r="1.05"/><circle cx="97.80" cy="58.90" r="1.05"/><circle cx="98.80" cy="57.00" r="1.05"/><circle cx="100.10" cy="54.90" r="1.05"/><circle cx="101.28" cy="53.53" r="1.05"/><circle cx="102.47" cy="52.31" r="1.05"/><circle cx="103.67" cy="51.28" r="1.05"/><circle cx="104.89" cy="50.52" r="1.05"/><circle cx="106.11" cy="49.90" r="1.05"/><circle cx="107.34" cy="49.35" r="1.05"/><circle cx="108.59" cy="48.90" r="1.05"/><circle cx="109.84" cy="48.48" r="1.05"/><circle cx="111.11" cy="48.19" r="1.05"/><circle cx="112.38" cy="48.09" r="1.05"/><circle cx="113.67" cy="48.03" r="1.05"/><circle cx="114.97" cy="48.00" r="1.05"/><circle cx="116.28" cy="48.04" r="1.05"/><circle cx="117.60" cy="48.14" r="1.05"/><circle cx="118.93" cy="48.28" r="1.05"/><circle cx="120.28" cy="48.43" r="1.05"/><circle cx="121.64" cy="48.62" r="1.05"/><circle cx="123.00" cy="48.85" r="1.05"/><circle cx="124.38" cy="49.10" r="1.05"/><circle cx="125.78" cy="49.37" r="1.05"/><circle cx="127.18" cy="49.63" r="1.05"/><circle cx="128.60" cy="49.91" r="1.05"/><circle cx="130.03" cy="50.19" r="1.05"/><circle cx="131.47" cy="50.49" r="1.05"/><circle cx="132.92" cy="50.80" r="1.05"/><circle cx="134.39" cy="51.11" r="1.05"/><circle cx="135.87" cy="51.43" r="1.05"/><circle cx="137.36" cy="51.76" r="1.05"/><circle cx="138.86" cy="52.09" r="1.05"/><circle cx="140.38" cy="52.43" r="1.05"/><circle cx="141.91" cy="52.77" r="1.05"/><circle cx="143.46" cy="53.12" r="1.05"/><circle cx="145.02" cy="53.47" r="1.05"/><circle cx="146.59" cy="53.83" r="1.05"/><circle cx="148.17" cy="54.20" r="1.05"/><circle cx="149.77" cy="54.58" r="1.05"/><circle cx="151.39" cy="54.96" r="1.05"/><circle cx="153.01" cy="55.34" r="1.05"/><circle cx="154.65" cy="55.73" r="1.05"/><circle cx="156.31" cy="56.12" r="1.05"/><circle cx="157.98" cy="56.50" r="1.05"/><circle cx="159.24" cy="56.79" r="1.05"/><circle cx="160.95" cy="57.17" r="1.05"/><circle cx="162.67" cy="57.56" r="1.05"/><circle cx="164.40" cy="57.94" r="1.05"/><circle cx="166.15" cy="58.33" r="1.05"/><circle cx="167.91" cy="58.72" r="1.05"/><circle cx="169.69" cy="59.10" r="1.05"/><circle cx="171.48" cy="59.49" r="1.05"/><circle cx="173.29" cy="59.88" r="1.05"/><circle cx="175.12" cy="60.26" r="1.05"/><circle cx="176.96" cy="60.64" r="1.05"/><circle cx="178.82" cy="61.01" r="1.05"/><circle cx="180.69" cy="61.39" r="1.05"/><circle cx="182.58" cy="61.76" r="1.05"/><circle cx="184.49" cy="62.14" r="1.05"/><circle cx="186.41" cy="62.51" r="1.05"/><circle cx="188.35" cy="62.88" r="1.05"/><circle cx="190.31" cy="63.25" r="1.05"/><circle cx="192.28" cy="63.62" r="1.05"/><circle cx="194.27" cy="63.98" r="1.05"/><circle cx="196.28" cy="64.34" r="1.05"/><circle cx="198.31" cy="64.70" r="1.05"/><circle cx="200.35" cy="65.05" r="1.05"/><circle cx="202.42" cy="65.40" r="1.05"/><circle cx="204.51" cy="65.75" r="1.05"/><circle cx="206.62" cy="66.09" r="1.05"/><circle cx="208.76" cy="66.44" r="1.05"/><circle cx="210.92" cy="66.78" r="1.05"/><circle cx="213.11" cy="67.13" r="1.05"/><circle cx="215.32" cy="67.47" r="1.05"/><circle cx="217.56" cy="67.80" r="1.05"/><circle cx="219.83" cy="68.14" r="1.05"/><circle cx="222.12" cy="68.47" r="1.05"/><circle cx="224.44" cy="68.80" r="1.05"/><circle cx="226.78" cy="69.13" r="1.05"/><circle cx="229.15" cy="69.45" r="1.05"/><circle cx="231.55" cy="69.77" r="1.05"/><circle cx="233.98" cy="70.09" r="1.05"/><circle cx="236.43" cy="70.41" r="1.05"/><circle cx="238.91" cy="70.73" r="1.05"/><circle cx="241.42" cy="71.04" r="1.05"/><circle cx="243.96" cy="71.35" r="1.05"/><circle cx="246.53" cy="71.66" r="1.05"/><circle cx="249.13" cy="71.96" r="1.05"/><circle cx="251.76" cy="72.26" r="1.05"/><circle cx="254.42" cy="72.56" r="1.05"/><circle cx="257.11" cy="72.86" r="1.05"/><circle cx="259.84" cy="73.15" r="1.05"/><circle cx="262.59" cy="73.44" r="1.05"/><circle cx="265.37" cy="73.73" r="1.05"/><circle cx="268.19" cy="74.02" r="1.05"/><circle cx="271.04" cy="74.30" r="1.05"/><circle cx="273.92" cy="74.59" r="1.05"/><circle cx="276.84" cy="74.86" r="1.05"/><circle cx="279.78" cy="75.14" r="1.05"/><circle cx="282.76" cy="75.41" r="1.05"/><circle cx="285.77" cy="75.68" r="1.05"/><circle cx="288.82" cy="75.95" r="1.05"/><circle cx="291.89" cy="76.22" r="1.05"/><circle cx="295.00" cy="76.48" r="1.05"/><circle cx="298.15" cy="76.74" r="1.05"/><circle cx="301.33" cy="77.00" r="1.05"/><circle cx="304.54" cy="77.25" r="1.05"/><circle cx="307.79" cy="77.51" r="1.05"/><circle cx="311.07" cy="77.76" r="1.05"/><circle cx="314.39" cy="78.01" r="1.05"/><circle cx="317.74" cy="78.25" r="1.05"/><circle cx="321.13" cy="78.50" r="1.05"/><circle cx="324.56" cy="78.74" r="1.05"/><circle cx="328.03" cy="78.98" r="1.05"/><circle cx="331.53" cy="79.21" r="1.05"/><circle cx="335.07" cy="79.45" r="1.05"/><circle cx="338.65" cy="79.68" r="1.05"/><circle cx="342.27" cy="79.91" r="1.05"/><circle cx="345.93" cy="80.13" r="1.05"/><circle cx="349.62" cy="80.36" r="1.05"/><circle cx="353.35" cy="80.58" r="1.05"/><circle cx="357.11" cy="80.80" r="1.05"/><circle cx="360.91" cy="81.02" r="1.05"/><circle cx="364.73" cy="81.23" r="1.05"/><circle cx="368.59" cy="81.45" r="1.05"/><circle cx="372.48" cy="81.66" r="1.05"/><circle cx="376.41" cy="81.86" r="1.05"/><circle cx="380.37" cy="82.07" r="1.05"/><circle cx="384.36" cy="82.27" r="1.05"/><circle cx="388.39" cy="82.47" r="1.05"/><circle cx="392.45" cy="82.67" r="1.05"/><circle cx="396.54" cy="82.87" r="1.05"/><circle cx="400.71" cy="83.06" r="1.05"/><circle cx="404.94" cy="83.26" r="1.05"/><circle cx="409.25" cy="83.45" r="1.05"/><circle cx="413.64" cy="83.64" r="1.05"/><circle cx="418.10" cy="83.84" r="1.05"/></g>
<g fill="#ff0000"><circle cx="81.90" cy="23.10" r="1.05"/><circle cx="82.90" cy="29.40" r="1.05"/><circle cx="84.00" cy="34.30" r="1.05"/><circle cx="85.10" cy="38.05" r="1.05"/><circle cx="86.10" cy="40.22" r="1.05"/><circle cx="87.10" cy="41.62" r="1.05"/><circle cx="88.05" cy="42.23" r="1.05"/><circle cx="89.00" cy="42.37" r="1.05"/><circle cx="90.10" cy="41.90" r="1.05"/><circle cx="91.10" cy="41.21" r="1.05"/><circle cx="92.20" cy="39.98" r="1.05"/><circle cx="93.40" cy="38.60" r="1.05"/><circle cx="94.50" cy="37.35" r="1.05"/><circle cx="95.70" cy="36.25" r="1.05"/><circle cx="96.70" cy="35.44" r="1.05"/><circle cx="97.80" cy="34.64" r="1.05"/><circle cx="98.80" cy="33.94" r="1.05"/><circle cx="100.10" cy="33.28" r="1.05"/><circle cx="101.28" cy="32.84" r="1.05"/><circle cx="102.47" cy="32.51" r="1.05"/><circle cx="103.67" cy="32.32" r="1.05"/><circle cx="104.89" cy="32.18" r="1.05"/><circle cx="106.11" cy="32.11" r="1.05"/><circle cx="107.34" cy="32.13" r="1.05"/><circle cx="108.59" cy="32.27" r="1.05"/><circle cx="109.84" cy="32.48" r="1.05"/><circle cx="111.11" cy="32.72" r="1.05"/><circle cx="112.38" cy="33.02" r="1.05"/><circle cx="113.67" cy="33.41" r="1.05"/><circle cx="114.97" cy="33.75" r="1.05"/><circle cx="116.28" cy="34.08" r="1.05"/><circle cx="117.60" cy="34.40" r="1.05"/><circle cx="118.93" cy="34.72" r="1.05"/><circle cx="120.28" cy="35.07" r="1.05"/><circle cx="121.64" cy="35.45" r="1.05"/><circle cx="123.00" cy="35.83" r="1.05"/><circle cx="124.38" cy="36.23" r="1.05"/><circle cx="125.78" cy="36.64" r="1.05"/><circle cx="127.18" cy="37.05" r="1.05"/><circle cx="128.60" cy="37.47" r="1.05"/><circle cx="130.03" cy="37.90" r="1.05"/><circle cx="131.47" cy="38.33" r="1.05"/><circle cx="132.92" cy="38.77" r="1.05"/><circle cx="134.39" cy="39.22" r="1.05"/><circle cx="135.87" cy="39.68" r="1.05"/><circle cx="137.36" cy="40.13" r="1.05"/><circle cx="138.86" cy="40.59" r="1.05"/><circle cx="140.38" cy="41.04" r="1.05"/><circle cx="141.91" cy="41.49" r="1.05"/><circle cx="143.46" cy="41.95" r="1.05"/><circle cx="145.02" cy="42.40" r="1.05"/><circle cx="146.59" cy="42.86" r="1.05"/><circle cx="148.17" cy="43.32" r="1.05"/><circle cx="149.77" cy="43.79" r="1.05"/><circle cx="151.39" cy="44.25" r="1.05"/><circle cx="153.01" cy="44.72" r="1.05"/><circle cx="154.65" cy="45.18" r="1.05"/><circle cx="156.31" cy="45.65" r="1.05"/><circle cx="157.98" cy="46.11" r="1.05"/><circle cx="159.24" cy="46.45" r="1.05"/><circle cx="160.95" cy="46.92" r="1.05"/><circle cx="162.67" cy="47.38" r="1.05"/><circle cx="164.40" cy="47.84" r="1.05"/><circle cx="166.15" cy="48.30" r="1.05"/><circle cx="167.91" cy="48.76" r="1.05"/><circle cx="169.69" cy="49.22" r="1.05"/><circle cx="171.48" cy="49.68" r="1.05"/><circle cx="173.29" cy="50.13" r="1.05"/><circle cx="175.12" cy="50.59" r="1.05"/><circle cx="176.96" cy="51.04" r="1.05"/><circle cx="178.82" cy="51.49" r="1.05"/><circle cx="180.69" cy="51.93" r="1.05"/><circle cx="182.58" cy="52.38" r="1.05"/><circle cx="184.49" cy="52.83" r="1.05"/><circle cx="186.41" cy="53.27" r="1.05"/><circle cx="188.35" cy="53.72" r="1.05"/><circle cx="190.31" cy="54.16" r="1.05"/><circle cx="192.28" cy="54.60" r="1.05"/><circle cx="194.27" cy="55.03" r="1.05"/><circle cx="196.28" cy="55.47" r="1.05"/><circle cx="198.31" cy="55.90" r="1.05"/><circle cx="200.35" cy="56.32" r="1.05"/><circle cx="202.42" cy="56.75" r="1.05"/><circle cx="204.51" cy="57.17" r="1.05"/><circle cx="206.62" cy="57.60" r="1.05"/><circle cx="208.76" cy="58.02" r="1.05"/><circle cx="210.92" cy="58.44" r="1.05"/><circle cx="213.11" cy="58.86" r="1.05"/><circle cx="215.32" cy="59.28" r="1.05"/><circle cx="217.56" cy="59.69" r="1.05"/><circle cx="219.83" cy="60.11" r="1.05"/><circle cx="222.12" cy="60.52" r="1.05"/><circle cx="224.44" cy="60.93" r="1.05"/><circle cx="226.78" cy="61.34" r="1.05"/><circle cx="229.15" cy="61.74" r="1.05"/><circle cx="231.55" cy="62.15" r="1.05"/><circle cx="233.98" cy="62.55" r="1.05"/><circle cx="236.43" cy="62.95" r="1.05"/><circle cx="238.91" cy="63.35" r="1.05"/><circle cx="241.42" cy="63.74" r="1.05"/><circle cx="243.96" cy="64.14" r="1.05"/><circle cx="246.53" cy="64.53" r="1.05"/><circle cx="249.13" cy="64.91" r="1.05"/><circle cx="251.76" cy="65.30" r="1.05"/><circle cx="254.42" cy="65.68" r="1.05"/><circle cx="257.11" cy="66.05" r="1.05"/><circle cx="259.84" cy="66.43" r="1.05"/><circle cx="262.59" cy="66.80" r="1.05"/><circle cx="265.37" cy="67.17" r="1.05"/><circle cx="268.19" cy="67.54" r="1.05"/><circle cx="271.04" cy="67.90" r="1.05"/><circle cx="273.92" cy="68.26" r="1.05"/><circle cx="276.84" cy="68.61" r="1.05"/><circle cx="279.78" cy="68.97" r="1.05"/><circle cx="282.76" cy="69.32" r="1.05"/><circle cx="285.77" cy="69.67" r="1.05"/><circle cx="288.82" cy="70.01" r="1.05"/><circle cx="291.89" cy="70.35" r="1.05"/><circle cx="295.00" cy="70.69" r="1.05"/><circle cx="298.15" cy="71.02" r="1.05"/><circle cx="301.33" cy="71.35" r="1.05"/><circle cx="304.54" cy="71.67" r="1.05"/><circle cx="307.79" cy="71.99" r="1.05"/><circle cx="311.07" cy="72.31" r="1.05"/><circle cx="314.39" cy="72.62" r="1.05"/><circle cx="317.74" cy="72.93" r="1.05"/><circle cx="321.13" cy="73.23" r="1.05"/><circle cx="324.56" cy="73.53" r="1.05"/><circle cx="328.03" cy="73.83" r="1.05"/><circle cx="331.53" cy="74.12" r="1.05"/><circle cx="335.07" cy="74.41" r="1.05"/><circle cx="338.65" cy="74.69" r="1.05"/><circle cx="342.27" cy="74.98" r="1.05"/><circle cx="345.93" cy="75.25" r="1.05"/><circle cx="349.62" cy="75.52" r="1.05"/><circle cx="353.35" cy="75.79" r="1.05"/><circle cx="357.11" cy="76.05" r="1.05"/><circle cx="360.91" cy="76.31" r="1.05"/><circle cx="364.73" cy="76.56" r="1.05"/><circle cx="368.59" cy="76.81" r="1.05"/><circle cx="372.48" cy="77.05" r="1.05"/><circle cx="376.41" cy="77.28" r="1.05"/><circle cx="380.37" cy="77.52" r="1.05"/><circle cx="384.36" cy="77.74" r="1.05"/><circle cx="388.39" cy="77.96" r="1.05"/><circle cx="392.45" cy="78.18" r="1.05"/><circle cx="396.54" cy="78.39" r="1.05"/><circle cx="400.71" cy="78.61" r="1.05"/><circle cx="404.94" cy="78.81" r="1.05"/><circle cx="409.25" cy="79.02" r="1.05"/><circle cx="413.64" cy="79.21" r="1.05"/><circle cx="418.10" cy="79.41" r="1.05"/></g>
<g fill="#a0a0a0"><circle cx="85.10" cy="20.21" r="1.05"/><circle cx="86.10" cy="22.67" r="1.05"/><circle cx="87.10" cy="25.05" r="1.05"/><circle cx="88.05" cy="26.23" r="1.05"/><circle cx="89.00" cy="26.78" r="1.05"/><circle cx="90.10" cy="27.05" r="1.05"/><circle cx="91.10" cy="26.96" r="1.05"/><circle cx="92.20" cy="26.72" r="1.05"/><circle cx="93.40" cy="26.36" r="1.05"/><circle cx="94.50" cy="25.83" r="1.05"/><circle cx="95.70" cy="25.26" r="1.05"/><circle cx="96.70" cy="24.81" r="1.05"/><circle cx="97.80" cy="24.34" r="1.05"/><circle cx="98.80" cy="24.02" r="1.05"/><circle cx="100.10" cy="23.75" r="1.05"/><circle cx="101.28" cy="23.54" r="1.05"/><circle cx="102.47" cy="23.42" r="1.05"/><circle cx="103.67" cy="23.41" r="1.05"/><circle cx="104.89" cy="23.52" r="1.05"/><circle cx="106.11" cy="23.70" r="1.05"/><circle cx="107.34" cy="23.91" r="1.05"/><circle cx="108.59" cy="24.21" r="1.05"/><circle cx="109.84" cy="24.62" r="1.05"/><circle cx="111.11" cy="25.07" r="1.05"/><circle cx="112.38" cy="25.50" r="1.05"/><circle cx="113.67" cy="25.94" r="1.05"/><circle cx="114.97" cy="26.39" r="1.05"/><circle cx="116.28" cy="26.82" r="1.05"/><circle cx="117.60" cy="27.25" r="1.05"/><circle cx="118.93" cy="27.67" r="1.05"/><circle cx="120.28" cy="28.09" r="1.05"/><circle cx="121.64" cy="28.52" r="1.05"/><circle cx="123.00" cy="28.95" r="1.05"/><circle cx="124.38" cy="29.38" r="1.05"/><circle cx="125.78" cy="29.83" r="1.05"/><circle cx="127.18" cy="30.28" r="1.05"/><circle cx="128.60" cy="30.75" r="1.05"/><circle cx="130.03" cy="31.22" r="1.05"/><circle cx="131.47" cy="31.70" r="1.05"/><circle cx="132.92" cy="32.19" r="1.05"/><circle cx="134.39" cy="32.68" r="1.05"/><circle cx="135.87" cy="33.18" r="1.05"/><circle cx="137.36" cy="33.67" r="1.05"/><circle cx="138.86" cy="34.18" r="1.05"/><circle cx="140.38" cy="34.68" r="1.05"/><circle cx="141.91" cy="35.18" r="1.05"/><circle cx="143.46" cy="35.69" r="1.05"/><circle cx="145.02" cy="36.20" r="1.05"/><circle cx="146.59" cy="36.71" r="1.05"/><circle cx="148.17" cy="37.23" r="1.05"/><circle cx="149.77" cy="37.75" r="1.05"/><circle cx="151.39" cy="38.28" r="1.05"/><circle cx="153.01" cy="38.80" r="1.05"/><circle cx="154.65" cy="39.33" r="1.05"/><circle cx="156.31" cy="39.85" r="1.05"/><circle cx="157.98" cy="40.38" r="1.05"/><circle cx="159.24" cy="40.77" r="1.05"/><circle cx="160.95" cy="41.29" r="1.05"/><circle cx="162.67" cy="41.81" r="1.05"/><circle cx="164.40" cy="42.33" r="1.05"/><circle cx="166.15" cy="42.85" r="1.05"/><circle cx="167.91" cy="43.37" r="1.05"/><circle cx="169.69" cy="43.89" r="1.05"/><circle cx="171.48" cy="44.41" r="1.05"/><circle cx="173.29" cy="44.93" r="1.05"/><circle cx="175.12" cy="45.44" r="1.05"/><circle cx="176.96" cy="45.95" r="1.05"/><circle cx="178.82" cy="46.45" r="1.05"/><circle cx="180.69" cy="46.95" r="1.05"/><circle cx="182.58" cy="47.45" r="1.05"/><circle cx="184.49" cy="47.95" r="1.05"/><circle cx="186.41" cy="48.45" r="1.05"/><circle cx="188.35" cy="48.95" r="1.05"/><circle cx="190.31" cy="49.44" r="1.05"/><circle cx="192.28" cy="49.93" r="1.05"/><circle cx="194.27" cy="50.42" r="1.05"/><circle cx="196.28" cy="50.90" r="1.05"/><circle cx="198.31" cy="51.38" r="1.05"/><circle cx="200.35" cy="51.85" r="1.05"/><circle cx="202.42" cy="52.32" r="1.05"/><circle cx="204.51" cy="52.79" r="1.05"/><circle cx="206.62" cy="53.25" r="1.05"/><circle cx="208.76" cy="53.72" r="1.05"/><circle cx="210.92" cy="54.18" r="1.05"/><circle cx="213.11" cy="54.64" r="1.05"/><circle cx="215.32" cy="55.09" r="1.05"/><circle cx="217.56" cy="55.55" r="1.05"/><circle cx="219.83" cy="56.00" r="1.05"/><circle cx="222.12" cy="56.45" r="1.05"/><circle cx="224.44" cy="56.89" r="1.05"/><circle cx="226.78" cy="57.34" r="1.05"/><circle cx="229.15" cy="57.78" r="1.05"/><circle cx="231.55" cy="58.21" r="1.05"/><circle cx="233.98" cy="58.65" r="1.05"/><circle cx="236.43" cy="59.08" r="1.05"/><circle cx="238.91" cy="59.51" r="1.05"/><circle cx="241.42" cy="59.93" r="1.05"/><circle cx="243.96" cy="60.36" r="1.05"/><circle cx="246.53" cy="60.78" r="1.05"/><circle cx="249.13" cy="61.19" r="1.05"/><circle cx="251.76" cy="61.61" r="1.05"/><circle cx="254.42" cy="62.02" r="1.05"/><circle cx="257.11" cy="62.42" r="1.05"/><circle cx="259.84" cy="62.83" r="1.05"/><circle cx="262.59" cy="63.23" r="1.05"/><circle cx="265.37" cy="63.63" r="1.05"/><circle cx="268.19" cy="64.03" r="1.05"/><circle cx="271.04" cy="64.42" r="1.05"/><circle cx="273.92" cy="64.81" r="1.05"/><circle cx="276.84" cy="65.19" r="1.05"/><circle cx="279.78" cy="65.57" r="1.05"/><circle cx="282.76" cy="65.95" r="1.05"/><circle cx="285.77" cy="66.33" r="1.05"/><circle cx="288.82" cy="66.70" r="1.05"/><circle cx="291.89" cy="67.07" r="1.05"/><circle cx="295.00" cy="67.44" r="1.05"/><circle cx="298.15" cy="67.80" r="1.05"/><circle cx="301.33" cy="68.16" r="1.05"/><circle cx="304.54" cy="68.51" r="1.05"/><circle cx="307.79" cy="68.86" r="1.05"/><circle cx="311.07" cy="69.21" r="1.05"/><circle cx="314.39" cy="69.56" r="1.05"/><circle cx="317.74" cy="69.90" r="1.05"/><circle cx="321.13" cy="70.23" r="1.05"/><circle cx="324.56" cy="70.57" r="1.05"/><circle cx="328.03" cy="70.90" r="1.05"/><circle cx="331.53" cy="71.22" r="1.05"/><circle cx="335.07" cy="71.55" r="1.05"/><circle cx="338.65" cy="71.87" r="1.05"/><circle cx="342.27" cy="72.18" r="1.05"/><circle cx="345.93" cy="72.49" r="1.05"/><circle cx="349.62" cy="72.80" r="1.05"/><circle cx="353.35" cy="73.10" r="1.05"/><circle cx="357.11" cy="73.40" r="1.05"/><circle cx="360.91" cy="73.70" r="1.05"/><circle cx="364.73" cy="73.99" r="1.05"/><circle cx="368.59" cy="74.27" r="1.05"/><circle cx="372.48" cy="74.55" r="1.05"/><circle cx="376.41" cy="74.83" r="1.05"/><circle cx="380.37" cy="75.10" r="1.05"/><circle cx="384.36" cy="75.36" r="1.05"/><circle cx="388.39" cy="75.62" r="1.05"/><circle cx="392.45" cy="75.88" r="1.05"/><circle cx="396.54" cy="76.13" r="1.05"/><circle cx="400.71" cy="76.38" r="1.05"/><circle cx="404.94" cy="76.63" r="1.05"/><circle cx="409.25" cy="76.88" r="1.05"/><circle cx="413.64" cy="77.12" r="1.05"/><circle cx="418.10" cy="77.36" r="1.05"/></g>
</g>
<rect x="50.6" y="22.6" width="1.5" height="2.1" fill="#00ff00" opacity="0.85"/><rect x="50.6" y="25.4" width="1.5" height="2.4" fill="#ff0000" opacity="0.85"/>
<path d="M125.90,218.45 v-3.3 M125.90,18.55 v3.3 M200.05,218.45 v-3.3 M200.05,18.55 v3.3 M274.20,218.45 v-3.3 M274.20,18.55 v3.3 M348.35,218.45 v-3.3 M348.35,18.55 v3.3 M51.75,201.48 h3.3 M422.5,201.48 h-3.3 M51.75,168.23 h3.3 M422.5,168.23 h-3.3 M51.75,134.98 h3.3 M422.5,134.98 h-3.3 M51.75,101.73 h3.3 M422.5,101.73 h-3.3 M51.75,68.48 h3.3 M422.5,68.48 h-3.3 M51.75,35.23 h3.3 M422.5,35.23 h-3.3" stroke="#333" stroke-width="0.55" fill="none"/>
<rect x="296.6" y="157.2" width="121.29999999999995" height="57.10000000000002" fill="#fff" stroke="#8c8c8c" stroke-width="0.95"/>
<g font-family="Liberation Serif, serif" font-size="9.6" text-anchor="end" fill="#000">
<text x="379.3" y="165.00" xml:space="preserve">Dyn. k-ε,  I = 0.01%</text>
<text x="379.3" y="174.70" xml:space="preserve">Dyn. k-ε,    I = 0.5%</text>
<text x="379.3" y="184.40" xml:space="preserve">Dyn. k-ε,  I = 1.65%</text>
<text x="379.3" y="194.10" xml:space="preserve">k-ε,  I = 0.3%</text>
<text x="379.3" y="203.80" xml:space="preserve">k-ε,  I = 2.5%</text>
<text x="379.3" y="213.50" xml:space="preserve">k-ε,  I = 5.6%</text>
</g>
<path d="M385.3,161.70 H412.4" stroke="#00ff00" stroke-width="1.9"/>
<path d="M385.3,171.40 H412.4" stroke="#ff0000" stroke-width="1.9"/>
<path d="M385.3,181.10 H412.4" stroke="#a0a0a0" stroke-width="1.9"/>
<rect x="397.85" y="189.85" width="1.9" height="1.9" fill="#00ff00"/>
<rect x="397.85" y="199.55" width="1.9" height="1.9" fill="#ff0000"/>
<rect x="397.85" y="209.25" width="1.9" height="1.9" fill="#a0a0a0"/>
<rect x="51.75" y="18.55" width="370.75" height="199.89999999999998" fill="none" stroke="#000" stroke-width="1.0"/>
<g font-family="Liberation Serif, serif" font-size="13.1" fill="#000">
<text transform="translate(45.00,206.33) scale(1.0,1.06)" text-anchor="end">-0.02</text>
<text transform="translate(45.00,173.08) scale(1.0,1.06)" text-anchor="end">-0.01</text>
<text transform="translate(45.00,139.83) scale(1.0,1.06)" text-anchor="end">0</text>
<text transform="translate(45.00,106.58) scale(1.0,1.06)" text-anchor="end">0.01</text>
<text transform="translate(45.00,73.33) scale(1.0,1.06)" text-anchor="end">0.02</text>
<text transform="translate(45.00,40.08) scale(1.0,1.06)" text-anchor="end">0.03</text>
<text transform="translate(53.25,234.20) scale(1.0,1.06)" text-anchor="middle">0</text>
<text transform="translate(127.40,234.20) scale(1.0,1.06)" text-anchor="middle">2</text>
<text transform="translate(201.55,234.20) scale(1.0,1.06)" text-anchor="middle">4</text>
<text transform="translate(275.70,234.20) scale(1.0,1.06)" text-anchor="middle">6</text>
<text transform="translate(349.85,234.20) scale(1.0,1.06)" text-anchor="middle">8</text>
<text transform="translate(424.00,234.20) scale(1.0,1.06)" text-anchor="middle">10</text>
<text transform="translate(237.30,248.70) scale(1.065,1.02)" text-anchor="middle" font-size="14.2">x/D</text>
<text transform="translate(10.2,118.5) rotate(-90)" text-anchor="middle" font-size="14.2">c<tspan font-size="11.8" dy="3.6" dx="0.8">f</tspan></text>
</g>
</svg></body></html>
